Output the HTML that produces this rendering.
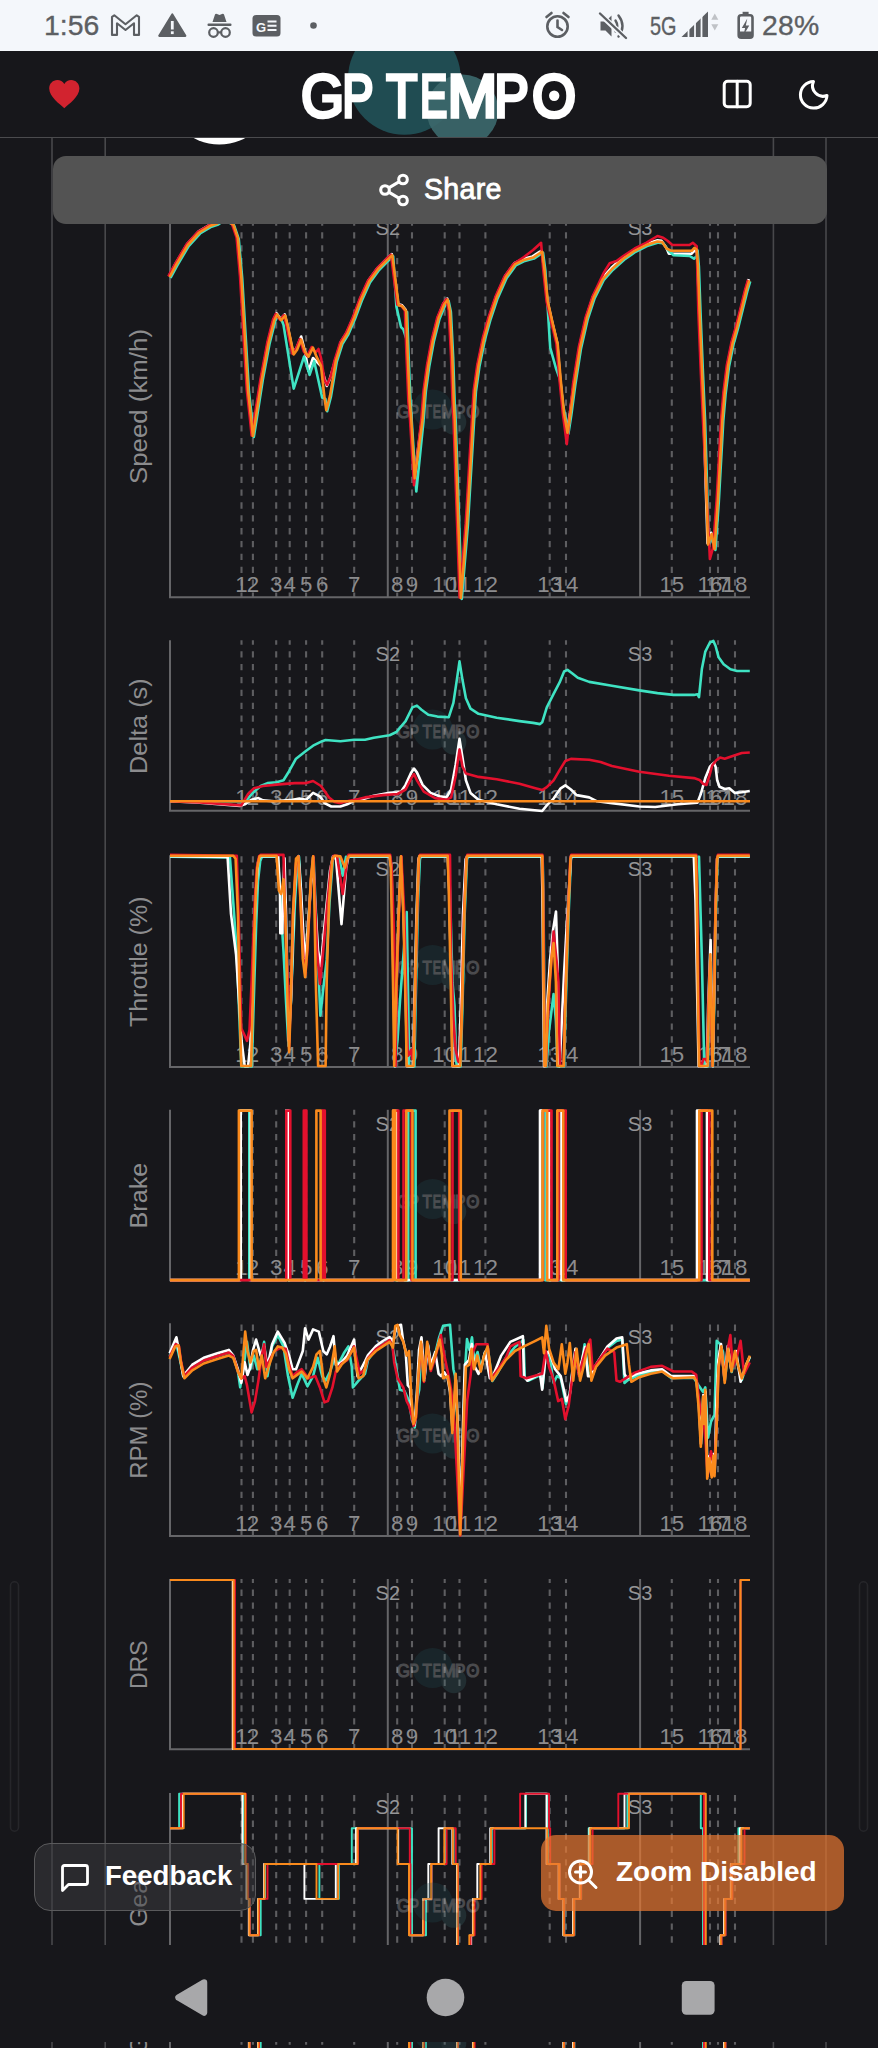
<!DOCTYPE html>
<html lang="en">
<head>
<meta charset="utf-8">
<title>GP Tempo</title>
<style>
*{box-sizing:border-box;margin:0;padding:0}
html,body{width:878px;height:2048px;overflow:hidden;background:#17171b}
body{position:relative;font-family:"Liberation Sans",sans-serif;color:#fff}
.abs{position:absolute}
#status{left:0;top:0;width:878px;height:51px;background:#f4f7fb;z-index:30}
#status .t{position:absolute;top:9.3px;font-size:28.4px;color:#5c5f63;line-height:32px;white-space:nowrap;-webkit-text-stroke:0.35px #5c5f63}
#header{left:0;top:51px;width:878px;height:87px;background:#17171b;border-bottom:1.5px solid #4b4b4e;z-index:20;overflow:hidden}
#content{left:0;top:0;width:878px;height:2048px;z-index:1}
#share{left:53px;top:156px;width:773.5px;height:68px;background:#535353;border-radius:13px;z-index:10}
#share span{position:absolute;left:371px;top:16px;font-size:28.6px;line-height:34px;color:#fff;letter-spacing:0.3px;-webkit-text-stroke:0.85px #fff}
#feedback{left:34px;top:1843.3px;width:222px;height:67.6px;background:rgba(62,62,65,0.5);border:1.6px solid #5a5a5c;border-radius:16px;z-index:10}
#feedback span{position:absolute;left:70px;top:14.5px;font-size:27.6px;line-height:34px;font-weight:700;color:#fff;letter-spacing:0}
#zoom{left:540.5px;top:1835px;width:303.4px;height:76.4px;background:rgba(232,120,48,0.70);border-radius:15px;z-index:10}
#zoom span{position:absolute;left:75.5px;top:19.5px;font-size:28px;line-height:34px;font-weight:700;color:#fff;letter-spacing:0}
#nav{left:0;top:1945px;width:878px;height:96.6px;background:#17171b;z-index:25}
svg text{font-family:"Liberation Sans",sans-serif}
</style>
</head>
<body>
<!-- page content: charts -->
<svg id="content" class="abs" width="878" height="2048" viewBox="0 0 878 2048">
<g stroke="#48484b" stroke-width="1.6">
<line x1="52" y1="137" x2="52" y2="2048"/>
<line x1="105.2" y1="137" x2="105.2" y2="2048"/>
<line x1="773.4" y1="137" x2="773.4" y2="2048"/>
<line x1="826" y1="137" x2="826" y2="2048"/>
</g>
<circle cx="219.300" cy="90.800" r="53.800" fill="#ffffff"/>
<rect x="10.500" y="1581.800" width="8" height="249.400" rx="4" fill="none" stroke="#26262a" stroke-width="1.600"/>
<rect x="859.500" y="1581.800" width="8" height="249.400" rx="4" fill="none" stroke="#26262a" stroke-width="1.600"/>
<path d="M241.5 213.7V597.3M252.9 213.7V597.3M276.2 213.7V597.3M289.7 213.7V597.3M306.1 213.7V597.3M322.2 213.7V597.3M354.2 213.7V597.3M397.2 213.7V597.3M412.0 213.7V597.3M444.7 213.7V597.3M459.5 213.7V597.3M485.4 213.7V597.3M549.7 213.7V597.3M566.0 213.7V597.3M671.8 213.7V597.3M710.0 213.7V597.3M718.0 213.7V597.3M735.0 213.7V597.3" stroke="#5e5e61" stroke-width="2.1" fill="none" stroke-dasharray="6.3 6.56" stroke-dashoffset="-5.74"/>
<line x1="387.8" y1="213.7" x2="387.8" y2="597.3" stroke="#656568" stroke-width="2"/>
<text x="387.8" y="234.6" text-anchor="middle" font-size="20" fill="#959597">S2</text>
<line x1="640.1" y1="213.7" x2="640.1" y2="597.3" stroke="#656568" stroke-width="2"/>
<text x="640.1" y="234.6" text-anchor="middle" font-size="20" fill="#959597">S3</text>
<text x="241.5" y="591.9" text-anchor="middle" font-size="22.3" fill="#8c8c8e">1</text>
<text x="252.9" y="591.9" text-anchor="middle" font-size="22.3" fill="#8c8c8e">2</text>
<text x="276.2" y="591.9" text-anchor="middle" font-size="22.3" fill="#8c8c8e">3</text>
<text x="289.7" y="591.9" text-anchor="middle" font-size="22.3" fill="#8c8c8e">4</text>
<text x="306.1" y="591.9" text-anchor="middle" font-size="22.3" fill="#8c8c8e">5</text>
<text x="322.2" y="591.9" text-anchor="middle" font-size="22.3" fill="#8c8c8e">6</text>
<text x="354.2" y="591.9" text-anchor="middle" font-size="22.3" fill="#8c8c8e">7</text>
<text x="397.2" y="591.9" text-anchor="middle" font-size="22.3" fill="#8c8c8e">8</text>
<text x="412.0" y="591.9" text-anchor="middle" font-size="22.3" fill="#8c8c8e">9</text>
<text x="444.7" y="591.9" text-anchor="middle" font-size="22.3" fill="#8c8c8e">10</text>
<text x="459.5" y="591.9" text-anchor="middle" font-size="22.3" fill="#8c8c8e">11</text>
<text x="485.4" y="591.9" text-anchor="middle" font-size="22.3" fill="#8c8c8e">12</text>
<text x="549.7" y="591.9" text-anchor="middle" font-size="22.3" fill="#8c8c8e">13</text>
<text x="566.0" y="591.9" text-anchor="middle" font-size="22.3" fill="#8c8c8e">14</text>
<text x="671.8" y="591.9" text-anchor="middle" font-size="22.3" fill="#8c8c8e">15</text>
<text x="710.0" y="591.9" text-anchor="middle" font-size="22.3" fill="#8c8c8e">16</text>
<text x="718.0" y="591.9" text-anchor="middle" font-size="22.3" fill="#8c8c8e">17</text>
<text x="735.0" y="591.9" text-anchor="middle" font-size="22.3" fill="#8c8c8e">18</text>
<g opacity="0.28"><circle cx="432.6" cy="409.4" r="20" fill="#204c52"/><circle cx="453.8" cy="422.1" r="12.5" fill="#3b676b"/><g transform="translate(438.3,411.8) scale(0.300) translate(-438.6,-95.7)" opacity="0.8"><text y="117.4" font-family="'Liberation Sans',sans-serif" font-weight="400" font-size="60.5" fill="#ffffff" stroke="#ffffff" stroke-width="3.6" stroke-linejoin="miter" xml:space="preserve"><tspan x="301.1" textLength="43.1" lengthAdjust="spacingAndGlyphs">G</tspan><tspan x="342.3" textLength="31.3" lengthAdjust="spacingAndGlyphs">P</tspan><tspan x="374.0"> </tspan><tspan x="386.3" textLength="31.1" lengthAdjust="spacingAndGlyphs">T</tspan><tspan x="420.1" textLength="27.3" lengthAdjust="spacingAndGlyphs">E</tspan><tspan x="447.6" textLength="49.8" lengthAdjust="spacingAndGlyphs">M</tspan><tspan x="494.3" textLength="34.6" lengthAdjust="spacingAndGlyphs">P</tspan><tspan x="532.1" textLength="44.1" lengthAdjust="spacingAndGlyphs">O</tspan></text><circle cx="554.2" cy="95.7" r="5.2" fill="#ffffff"/></g></g>
<path d="M170.0 213.7V597.3H750.0" stroke="#656568" stroke-width="2" fill="none"/>
<text transform="translate(147.2,406.5) rotate(-90)" text-anchor="middle" font-size="24.8" textLength="155.0" lengthAdjust="spacingAndGlyphs" fill="#8c8c8e">Speed (km/h)</text>
<polyline points="169.1,275.8 175.9,263.2 187.3,243.8 198.7,231.3 210.1,224.5 216.9,222.2 223.5,217.8 232.8,223.4 237.4,237.0 240.8,275.8 244.2,332.8 247.6,389.8 250.6,416.8 252.4,434.8 255.6,414.8 261.3,378.3 268.1,341.8 273.8,319.0 276.6,313.3 280.7,319.0 284.8,314.5 287.5,325.8 293.2,353.2 297.1,347.0 301.2,336.5 305.1,352.0 308.4,371.0 313.0,358.0 317.0,362.0 321.0,366.0 326.8,386.0 329.5,380.0 335.3,360.0 341.0,341.8 346.7,332.7 353.6,316.8 360.4,298.5 368.6,280.3 377.7,267.8 386.8,258.7 391.8,254.1 394.8,278.0 398.2,304.2 401.6,304.9 405.7,309.9 407.3,355.5 409.2,401.0 410.8,418.8 414.2,477.1 422.1,418.8 424.4,389.6 427.8,364.6 432.4,339.5 438.1,316.8 443.8,303.1 447.2,298.5 449.5,309.9 451.8,355.5 453.3,401.0 454.3,418.8 460.4,596.8 466.5,522.8 472.7,418.8 474.5,389.6 478.0,364.6 483.6,337.3 489.3,316.8 496.2,296.2 505.3,275.8 514.4,263.2 523.5,258.7 532.6,256.4 539.5,251.8 541.7,250.7 544.0,268.8 547.4,300.8 552.0,321.3 557.2,342.9 560.2,378.3 563.6,412.4 567.0,431.6 570.0,412.4 573.9,382.8 579.6,346.4 586.4,316.8 593.2,296.2 602.3,278.0 611.4,267.8 622.8,257.5 634.2,249.6 645.6,243.9 657.0,240.4 661.6,240.9 666.1,247.3 668.9,253.7 691.7,253.7 694.4,250.5 696.9,252.0 697.5,264.4 699.1,309.9 701.4,366.8 703.7,418.8 707.5,543.2 711.2,532.8 714.0,547.8 717.4,499.8 721.9,418.8 724.2,391.9 727.6,364.6 732.2,341.8 736.7,325.9 741.3,307.6 745.8,289.4 748.8,279.2" fill="none" stroke="#ffffff" stroke-width="2.6" stroke-linejoin="round" stroke-linecap="butt"/>
<polyline points="170.5,278.0 177.3,265.4 188.7,246.0 200.1,233.5 211.5,226.7 218.3,224.4 224.9,220.0 234.2,225.6 238.8,239.2 242.2,278.0 245.6,335.0 249.0,392.0 252.0,419.0 253.8,437.0 257.0,417.0 262.7,380.5 269.5,344.0 275.2,321.2 278.0,315.5 282.1,321.2 283.5,324.8 293.7,388.6 304.0,356.7 309.6,374.9 314.2,361.2 322.2,397.7 325.4,398.7 327.2,411.2 331.0,396.4 336.7,362.2 342.4,344.0 348.1,334.9 355.0,319.0 361.8,300.7 370.0,282.5 379.1,270.0 388.2,260.9 393.2,256.3 396.4,306.6 401.0,327.0 403.3,329.3 406.8,340.0 407.1,312.1 408.7,357.7 410.6,403.2 416.3,491.5 423.5,421.0 425.8,391.8 429.2,366.8 433.8,341.7 439.5,319.0 445.2,305.3 448.6,300.7 450.9,312.1 453.2,357.7 454.7,403.2 455.7,421.0 461.8,599.0 467.9,525.0 474.1,421.0 475.9,391.8 479.4,366.8 485.0,339.5 490.7,319.0 497.6,298.4 506.7,278.0 515.8,265.4 524.9,260.9 534.0,258.6 540.9,254.0 543.1,252.9 545.4,271.0 550.2,347.6 555.9,368.0 560.0,379.5 563.0,405.0 565.0,414.6 568.4,433.8 571.4,414.6 575.3,385.0 581.0,348.6 587.8,319.0 594.6,298.4 603.7,280.2 612.8,270.0 624.2,259.7 635.6,251.8 647.0,246.1 658.4,242.6 663.0,243.1 668.0,250.0 673.5,255.3 689.6,256.0 694.0,258.7 696.9,256.0 697.6,250.6 698.9,266.6 700.5,312.1 702.8,369.0 705.1,421.0 708.9,545.4 712.6,535.0 715.4,550.0 718.8,502.0 723.3,421.0 725.6,394.1 729.0,366.8 733.6,344.0 738.1,328.1 742.7,309.8 747.2,291.6 750.2,281.4" fill="none" stroke="#3fe3c3" stroke-width="2.6" stroke-linejoin="round" stroke-linecap="butt"/>
<polyline points="168.3,276.4 175.1,263.8 186.5,244.4 197.9,231.9 209.3,225.1 216.1,222.8 222.7,218.4 232.0,224.0 236.6,237.6 240.0,276.4 243.4,333.4 246.8,390.4 249.8,417.4 251.6,435.4 254.8,415.4 260.5,378.9 267.3,342.4 273.0,319.6 275.8,313.9 279.9,319.6 284.0,315.1 286.7,326.4 292.4,353.8 295.8,349.2 299.9,339.0 303.8,351.5 307.2,356.1 311.7,347.0 313.0,350.0 316.0,352.0 318.5,349.0 321.0,358.0 324.5,380.0 327.0,385.0 330.5,377.0 334.5,360.6 340.2,342.4 345.9,333.3 352.8,317.4 359.6,299.1 367.8,280.9 376.9,268.4 386.0,259.3 391.0,254.7 394.0,278.6 397.4,304.8 400.8,305.5 404.9,310.5 406.5,356.1 408.4,401.6 410.0,419.4 414.0,485.2 421.3,419.4 423.6,390.2 427.0,365.2 431.6,340.1 437.3,317.4 443.0,303.7 446.4,299.1 448.7,310.5 451.0,356.1 452.5,401.6 453.5,419.4 459.6,597.4 465.7,523.4 471.9,419.4 473.7,390.2 477.2,365.2 482.8,337.9 488.5,317.4 495.4,296.8 504.5,276.4 513.6,263.8 524.0,257.0 533.1,250.0 541.1,242.8 543.2,269.4 546.6,301.4 551.2,321.9 556.4,343.5 559.4,378.9 562.8,413.0 566.8,444.2 573.1,383.4 578.8,347.0 585.6,317.4 592.4,296.8 604.0,272.4 609.7,263.3 616.5,261.0 623.3,256.0 634.7,248.5 646.1,242.8 657.5,236.0 663.2,237.8 667.8,241.0 672.3,245.0 689.4,245.0 692.8,242.8 696.7,246.2 698.3,310.5 700.6,367.4 702.9,419.4 709.9,559.0 713.0,548.0 716.6,500.4 721.1,419.4 723.4,392.5 726.8,365.2 731.4,342.4 735.9,326.5 740.5,308.2 745.0,290.0 748.0,279.8" fill="none" stroke="#e3102d" stroke-width="2.6" stroke-linejoin="round" stroke-linecap="butt"/>
<polyline points="169.6,277.0 176.4,264.4 187.8,245.0 199.2,232.5 210.6,225.7 217.4,223.4 224.0,219.0 233.3,224.6 237.9,238.2 241.3,277.0 244.7,334.0 248.1,391.0 251.1,418.0 252.9,436.0 256.1,416.0 261.8,379.5 268.6,343.0 274.3,320.2 277.1,314.5 281.2,320.2 285.3,315.7 288.0,327.0 293.7,354.4 297.1,349.8 301.2,339.6 305.1,352.1 308.5,356.7 313.0,347.6 316.5,356.7 321.0,365.8 324.5,397.7 326.3,410.2 330.1,395.4 335.8,361.2 341.5,343.0 347.2,333.9 354.1,318.0 360.9,299.7 369.1,281.5 378.2,269.0 387.3,259.9 392.3,255.3 395.3,279.2 398.7,305.4 402.1,306.1 406.2,311.1 407.8,356.7 409.7,402.2 411.3,420.0 414.7,478.3 422.6,420.0 424.9,390.8 428.3,365.8 432.9,340.7 438.6,318.0 444.3,304.3 447.7,299.7 450.0,311.1 452.3,356.7 453.8,402.2 454.8,420.0 460.9,598.0 467.0,524.0 473.2,420.0 475.0,390.8 478.5,365.8 484.1,338.5 489.8,318.0 496.7,297.4 505.8,277.0 514.9,264.4 524.0,259.9 533.1,257.6 540.0,253.0 542.2,251.9 544.5,270.0 547.9,302.0 552.5,322.5 557.7,344.1 560.7,379.5 564.1,413.6 567.5,432.8 570.5,413.6 574.4,384.0 580.1,347.6 586.9,318.0 593.7,297.4 602.8,279.2 611.9,269.0 623.3,258.7 634.7,250.8 646.1,245.1 657.5,241.6 662.1,242.1 666.6,248.5 671.2,250.8 691.7,250.8 694.4,247.8 696.7,249.6 698.0,265.6 699.6,311.1 701.9,368.0 704.2,420.0 708.0,544.4 711.7,534.0 714.5,549.0 717.9,501.0 722.4,420.0 724.7,393.1 728.1,365.8 732.7,343.0 737.2,327.1 741.8,308.8 746.3,290.6 749.3,280.4" fill="none" stroke="#fa8a1c" stroke-width="2.6" stroke-linejoin="round" stroke-linecap="butt"/>
<path d="M241.5 640.3V810.8M252.9 640.3V810.8M276.2 640.3V810.8M289.7 640.3V810.8M306.1 640.3V810.8M322.2 640.3V810.8M354.2 640.3V810.8M397.2 640.3V810.8M412.0 640.3V810.8M444.7 640.3V810.8M459.5 640.3V810.8M485.4 640.3V810.8M549.7 640.3V810.8M566.0 640.3V810.8M671.8 640.3V810.8M710.0 640.3V810.8M718.0 640.3V810.8M735.0 640.3V810.8" stroke="#5e5e61" stroke-width="2.1" fill="none" stroke-dasharray="6.3 6.56" stroke-dashoffset="1.96"/>
<line x1="387.8" y1="640.3" x2="387.8" y2="810.8" stroke="#656568" stroke-width="2"/>
<text x="387.8" y="661.2" text-anchor="middle" font-size="20" fill="#959597">S2</text>
<line x1="640.1" y1="640.3" x2="640.1" y2="810.8" stroke="#656568" stroke-width="2"/>
<text x="640.1" y="661.2" text-anchor="middle" font-size="20" fill="#959597">S3</text>
<text x="241.5" y="805.4" text-anchor="middle" font-size="22.3" fill="#8c8c8e">1</text>
<text x="252.9" y="805.4" text-anchor="middle" font-size="22.3" fill="#8c8c8e">2</text>
<text x="276.2" y="805.4" text-anchor="middle" font-size="22.3" fill="#8c8c8e">3</text>
<text x="289.7" y="805.4" text-anchor="middle" font-size="22.3" fill="#8c8c8e">4</text>
<text x="306.1" y="805.4" text-anchor="middle" font-size="22.3" fill="#8c8c8e">5</text>
<text x="322.2" y="805.4" text-anchor="middle" font-size="22.3" fill="#8c8c8e">6</text>
<text x="354.2" y="805.4" text-anchor="middle" font-size="22.3" fill="#8c8c8e">7</text>
<text x="397.2" y="805.4" text-anchor="middle" font-size="22.3" fill="#8c8c8e">8</text>
<text x="412.0" y="805.4" text-anchor="middle" font-size="22.3" fill="#8c8c8e">9</text>
<text x="444.7" y="805.4" text-anchor="middle" font-size="22.3" fill="#8c8c8e">10</text>
<text x="459.5" y="805.4" text-anchor="middle" font-size="22.3" fill="#8c8c8e">11</text>
<text x="485.4" y="805.4" text-anchor="middle" font-size="22.3" fill="#8c8c8e">12</text>
<text x="549.7" y="805.4" text-anchor="middle" font-size="22.3" fill="#8c8c8e">13</text>
<text x="566.0" y="805.4" text-anchor="middle" font-size="22.3" fill="#8c8c8e">14</text>
<text x="671.8" y="805.4" text-anchor="middle" font-size="22.3" fill="#8c8c8e">15</text>
<text x="710.0" y="805.4" text-anchor="middle" font-size="22.3" fill="#8c8c8e">16</text>
<text x="718.0" y="805.4" text-anchor="middle" font-size="22.3" fill="#8c8c8e">17</text>
<text x="735.0" y="805.4" text-anchor="middle" font-size="22.3" fill="#8c8c8e">18</text>
<g opacity="0.28"><circle cx="432.6" cy="729.4" r="20" fill="#204c52"/><circle cx="453.8" cy="742.1" r="12.5" fill="#3b676b"/><g transform="translate(438.3,731.8) scale(0.300) translate(-438.6,-95.7)" opacity="0.8"><text y="117.4" font-family="'Liberation Sans',sans-serif" font-weight="400" font-size="60.5" fill="#ffffff" stroke="#ffffff" stroke-width="3.6" stroke-linejoin="miter" xml:space="preserve"><tspan x="301.1" textLength="43.1" lengthAdjust="spacingAndGlyphs">G</tspan><tspan x="342.3" textLength="31.3" lengthAdjust="spacingAndGlyphs">P</tspan><tspan x="374.0"> </tspan><tspan x="386.3" textLength="31.1" lengthAdjust="spacingAndGlyphs">T</tspan><tspan x="420.1" textLength="27.3" lengthAdjust="spacingAndGlyphs">E</tspan><tspan x="447.6" textLength="49.8" lengthAdjust="spacingAndGlyphs">M</tspan><tspan x="494.3" textLength="34.6" lengthAdjust="spacingAndGlyphs">P</tspan><tspan x="532.1" textLength="44.1" lengthAdjust="spacingAndGlyphs">O</tspan></text><circle cx="554.2" cy="95.7" r="5.2" fill="#ffffff"/></g></g>
<path d="M170.0 640.3V810.8H750.0" stroke="#656568" stroke-width="2" fill="none"/>
<text transform="translate(147.2,726.1) rotate(-90)" text-anchor="middle" font-size="24.8" textLength="95.6" lengthAdjust="spacingAndGlyphs" fill="#8c8c8e">Delta (s)</text>
<polyline points="170.0,801.3 244.0,801.3 247.0,799.7 252.7,792.9 260.7,786.0 267.5,783.1 276.6,782.2 283.5,780.3 289.1,771.2 296.0,758.7 306.2,750.7 313.1,745.7 322.2,741.2 325.6,740.0 340.4,741.2 354.1,739.8 365.0,739.8 373.7,737.7 389.6,735.2 396.4,732.0 405.6,721.1 412.4,707.4 416.9,705.6 421.5,709.7 428.3,714.7 437.4,716.6 448.8,717.2 453.4,702.9 456.8,680.1 459.5,661.4 462.5,680.1 465.9,698.3 470.5,708.6 478.5,713.8 496.7,717.7 519.5,721.1 533.1,722.9 540.0,724.1 542.2,722.3 546.8,707.4 553.6,693.8 559.6,682.4 564.1,671.5 567.5,669.9 572.1,673.3 577.8,677.8 589.2,681.9 611.9,685.8 639.3,690.4 657.5,693.1 673.5,694.9 694.0,694.9 697.4,694.2 699.0,697.2 701.9,668.7 705.3,651.6 709.9,642.5 713.3,640.9 715.6,646.0 718.6,657.3 723.6,664.2 730.4,669.2 737.2,671.0 749.8,671.0" fill="none" stroke="#3fe3c3" stroke-width="2.6" stroke-linejoin="round" stroke-linecap="butt"/>
<polyline points="170.0,801.3 200.0,802.8 240.2,805.9 244.7,804.3 251.6,799.7 258.4,798.1 263.0,800.4 274.3,801.3 292.6,799.7 299.4,798.6 306.2,799.7 313.1,792.9 319.9,796.3 324.5,803.1 331.3,806.5 340.4,806.5 347.2,804.3 354.1,800.8 365.0,798.6 373.7,795.8 389.6,792.9 397.6,792.2 401.0,791.7 405.6,784.9 411.3,772.4 414.0,768.5 416.9,772.4 422.6,784.9 430.6,792.9 439.7,796.3 446.6,797.4 451.1,789.5 455.7,764.4 459.5,738.9 462.5,757.6 465.9,780.3 470.5,792.9 478.5,799.7 496.7,804.3 519.5,808.8 542.2,811.0 546.8,805.4 553.6,798.6 560.7,788.3 565.3,785.4 570.9,789.5 576.6,795.1 589.2,797.4 597.1,801.3 611.9,803.1 639.3,806.5 655.2,807.0 678.0,804.3 697.4,802.7 700.8,794.0 705.3,778.1 709.9,766.7 713.8,762.8 715.6,766.7 717.2,780.3 719.5,786.7 724.7,789.0 729.3,788.3 734.9,792.9 741.8,792.2 749.8,791.0" fill="none" stroke="#ffffff" stroke-width="2.6" stroke-linejoin="round" stroke-linecap="butt"/>
<polyline points="170.0,801.3 200.0,802.5 241.3,805.4 248.1,794.0 253.8,788.3 263.0,786.0 278.9,784.4 294.8,783.1 306.2,783.1 313.1,781.0 321.0,786.0 329.0,797.4 334.7,802.0 340.4,803.1 349.5,800.8 358.6,799.0 365.0,797.4 382.8,795.1 397.6,794.0 405.6,789.5 411.3,778.1 414.0,774.0 416.9,780.3 423.8,791.7 435.2,798.1 446.6,799.7 451.1,797.4 455.7,775.8 459.5,749.6 462.5,766.7 465.9,773.5 478.5,776.9 496.7,779.2 519.5,783.8 535.4,788.3 542.2,790.1 546.8,787.2 553.6,780.3 559.6,770.1 565.3,761.0 570.9,758.9 589.2,759.8 600.6,762.1 611.9,766.0 639.3,771.7 668.9,775.8 694.0,778.1 699.6,779.9 703.1,783.8 706.5,784.9 709.4,775.8 712.2,765.5 716.7,759.8 720.1,757.6 724.7,758.7 732.7,756.0 741.8,753.0 749.8,752.5" fill="none" stroke="#e3102d" stroke-width="2.6" stroke-linejoin="round" stroke-linecap="butt"/>
<polyline points="170.0,801.3 750.0,801.3" fill="none" stroke="#fa8a1c" stroke-width="2.6" stroke-linejoin="round" stroke-linecap="butt"/>
<path d="M241.5 855.3V1067.1M252.9 855.3V1067.1M276.2 855.3V1067.1M289.7 855.3V1067.1M306.1 855.3V1067.1M322.2 855.3V1067.1M354.2 855.3V1067.1M397.2 855.3V1067.1M412.0 855.3V1067.1M444.7 855.3V1067.1M459.5 855.3V1067.1M485.4 855.3V1067.1M549.7 855.3V1067.1M566.0 855.3V1067.1M671.8 855.3V1067.1M710.0 855.3V1067.1M718.0 855.3V1067.1M735.0 855.3V1067.1" stroke="#5e5e61" stroke-width="2.1" fill="none" stroke-dasharray="6.3 6.56" stroke-dashoffset="11.86"/>
<line x1="387.8" y1="855.3" x2="387.8" y2="1067.1" stroke="#656568" stroke-width="2"/>
<text x="387.8" y="876.2" text-anchor="middle" font-size="20" fill="#959597">S2</text>
<line x1="640.1" y1="855.3" x2="640.1" y2="1067.1" stroke="#656568" stroke-width="2"/>
<text x="640.1" y="876.2" text-anchor="middle" font-size="20" fill="#959597">S3</text>
<text x="241.5" y="1061.7" text-anchor="middle" font-size="22.3" fill="#8c8c8e">1</text>
<text x="252.9" y="1061.7" text-anchor="middle" font-size="22.3" fill="#8c8c8e">2</text>
<text x="276.2" y="1061.7" text-anchor="middle" font-size="22.3" fill="#8c8c8e">3</text>
<text x="289.7" y="1061.7" text-anchor="middle" font-size="22.3" fill="#8c8c8e">4</text>
<text x="306.1" y="1061.7" text-anchor="middle" font-size="22.3" fill="#8c8c8e">5</text>
<text x="322.2" y="1061.7" text-anchor="middle" font-size="22.3" fill="#8c8c8e">6</text>
<text x="354.2" y="1061.7" text-anchor="middle" font-size="22.3" fill="#8c8c8e">7</text>
<text x="397.2" y="1061.7" text-anchor="middle" font-size="22.3" fill="#8c8c8e">8</text>
<text x="412.0" y="1061.7" text-anchor="middle" font-size="22.3" fill="#8c8c8e">9</text>
<text x="444.7" y="1061.7" text-anchor="middle" font-size="22.3" fill="#8c8c8e">10</text>
<text x="459.5" y="1061.7" text-anchor="middle" font-size="22.3" fill="#8c8c8e">11</text>
<text x="485.4" y="1061.7" text-anchor="middle" font-size="22.3" fill="#8c8c8e">12</text>
<text x="549.7" y="1061.7" text-anchor="middle" font-size="22.3" fill="#8c8c8e">13</text>
<text x="566.0" y="1061.7" text-anchor="middle" font-size="22.3" fill="#8c8c8e">14</text>
<text x="671.8" y="1061.7" text-anchor="middle" font-size="22.3" fill="#8c8c8e">15</text>
<text x="710.0" y="1061.7" text-anchor="middle" font-size="22.3" fill="#8c8c8e">16</text>
<text x="718.0" y="1061.7" text-anchor="middle" font-size="22.3" fill="#8c8c8e">17</text>
<text x="735.0" y="1061.7" text-anchor="middle" font-size="22.3" fill="#8c8c8e">18</text>
<g opacity="0.28"><circle cx="432.6" cy="965.1" r="20" fill="#204c52"/><circle cx="453.8" cy="977.8" r="12.5" fill="#3b676b"/><g transform="translate(438.3,967.5) scale(0.300) translate(-438.6,-95.7)" opacity="0.8"><text y="117.4" font-family="'Liberation Sans',sans-serif" font-weight="400" font-size="60.5" fill="#ffffff" stroke="#ffffff" stroke-width="3.6" stroke-linejoin="miter" xml:space="preserve"><tspan x="301.1" textLength="43.1" lengthAdjust="spacingAndGlyphs">G</tspan><tspan x="342.3" textLength="31.3" lengthAdjust="spacingAndGlyphs">P</tspan><tspan x="374.0"> </tspan><tspan x="386.3" textLength="31.1" lengthAdjust="spacingAndGlyphs">T</tspan><tspan x="420.1" textLength="27.3" lengthAdjust="spacingAndGlyphs">E</tspan><tspan x="447.6" textLength="49.8" lengthAdjust="spacingAndGlyphs">M</tspan><tspan x="494.3" textLength="34.6" lengthAdjust="spacingAndGlyphs">P</tspan><tspan x="532.1" textLength="44.1" lengthAdjust="spacingAndGlyphs">O</tspan></text><circle cx="554.2" cy="95.7" r="5.2" fill="#ffffff"/></g></g>
<path d="M170.0 855.3V1067.1H750.0" stroke="#656568" stroke-width="2" fill="none"/>
<text transform="translate(147.2,961.8) rotate(-90)" text-anchor="middle" font-size="24.8" textLength="130.6" lengthAdjust="spacingAndGlyphs" fill="#8c8c8e">Throttle (%)</text>
<polyline points="170.0,856.7 229.9,857.4 233.3,902.9 236.7,951.0 239.5,1021.0 241.3,1066.4 251.8,1066.4 253.6,1005.5 256.1,925.7 258.0,881.0 260.2,861.0 262.0,856.7 277.5,856.7 279.5,881.0 281.2,914.3 283.5,951.0 286.0,1001.0 288.5,1046.0 290.5,1011.0 292.6,959.9 295.0,901.0 297.5,863.0 299.0,856.7 301.0,891.0 303.0,941.0 305.5,961.0 308.0,931.0 311.0,881.0 313.6,857.7 315.0,891.0 318.0,961.0 320.4,1015.7 323.0,991.0 326.7,959.9 329.5,902.9 332.8,859.7 335.0,856.7 339.0,856.7 342.7,875.6 346.0,856.7 390.2,856.7 391.4,868.8 393.6,982.7 394.8,1066.4 397.6,1039.0 400.0,1001.0 403.0,961.0 406.7,912.0 408.2,1001.0 409.2,1066.4 414.4,1066.4 415.6,1005.5 418.0,903.0 419.9,859.7 420.8,856.7 448.5,856.7 450.0,891.6 452.5,982.7 454.5,1005.5 456.3,1062.0 457.0,1066.4 460.6,1066.4 462.5,1005.5 464.7,914.3 467.0,859.7 468.0,856.7 542.6,856.7 543.4,891.6 544.2,982.7 545.2,1066.4 546.5,1066.4 549.0,1031.0 553.6,994.0 555.9,1021.0 557.6,1066.4 564.0,1066.4 565.7,1005.5 568.6,914.3 570.9,859.7 571.8,856.7 699.0,856.7 701.9,959.9 704.2,1062.0 704.8,1066.4 707.8,1066.4 709.0,1005.5 710.6,959.0 711.9,1028.2 712.8,1066.4 714.2,1005.5 715.8,914.3 717.4,859.7 718.3,856.7 749.8,856.7" fill="none" stroke="#3fe3c3" stroke-width="2.6" stroke-linejoin="round" stroke-linecap="butt"/>
<polyline points="170.0,856.2 227.6,856.9 231.0,913.8 236.1,954.8 239.0,1000.5 241.5,1040.5 244.7,1066.2 248.1,1066.2 250.4,1043.5 252.0,1000.5 254.0,936.5 256.0,890.5 258.0,862.5 260.0,856.2 278.2,856.2 280.0,891.1 280.3,933.2 282.3,933.2 283.5,880.5 284.5,858.2 286.0,913.5 288.5,1040.5 291.0,1000.5 294.0,900.5 296.5,860.5 298.5,856.2 301.0,890.5 305.1,966.2 309.0,910.5 313.1,857.2 315.0,900.5 318.0,950.5 321.0,966.2 324.0,930.5 327.0,900.5 330.0,870.5 333.0,856.2 335.8,856.2 341.5,924.1 346.1,868.3 348.5,856.2 389.6,856.2 391.5,868.3 394.0,982.2 395.2,1066.2 396.6,982.2 398.7,913.8 401.0,856.9 403.6,913.8 405.9,1005.0 407.0,1066.2 413.0,1066.2 414.3,1005.0 416.5,913.8 418.4,859.2 419.4,856.2 447.7,856.2 449.2,891.1 451.2,982.2 452.6,1066.2 459.0,1066.2 460.8,1005.0 463.0,913.8 465.6,859.2 467.0,856.2 541.6,856.2 542.4,891.1 543.2,982.2 544.0,1066.2 545.0,1066.2 546.8,1009.5 550.0,960.5 553.0,930.5 556.0,911.5 557.5,960.5 558.5,1040.5 559.5,1066.2 560.7,1043.5 564.1,973.1 567.0,920.5 569.5,880.5 571.0,856.2 693.8,856.2 695.5,900.5 697.4,1005.0 698.6,1066.2 706.8,1066.2 708.2,1005.0 710.6,940.0 711.9,1027.7 712.8,1066.2 714.0,1000.5 715.4,913.8 717.0,859.2 718.0,856.2 749.8,856.2" fill="none" stroke="#ffffff" stroke-width="2.6" stroke-linejoin="round" stroke-linecap="butt"/>
<polyline points="170.0,854.9 236.8,855.7 238.6,913.3 240.6,1000.0 241.3,1028.4 244.0,1034.0 247.0,1040.9 249.5,1030.0 251.6,981.7 253.3,936.1 255.0,897.4 256.8,867.8 259.0,856.4 260.5,854.9 283.5,854.9 284.7,901.0 286.3,950.0 288.0,986.2 289.1,1048.0 290.7,1000.0 293.0,913.3 296.0,863.2 298.3,856.4 300.0,890.0 301.7,924.0 303.5,958.9 305.4,975.0 307.6,947.5 311.0,879.2 313.4,856.4 314.7,890.6 317.0,950.0 319.9,984.0 322.3,960.0 324.5,936.0 327.5,901.9 331.0,866.0 333.5,855.7 337.0,855.7 342.7,894.0 347.2,860.0 348.5,854.9 390.2,854.9 391.7,867.8 394.2,940.0 395.6,1066.0 396.8,981.7 399.0,913.3 401.4,856.4 404.3,913.3 406.5,1004.5 407.8,1056.0 409.5,1054.0 411.0,1050.0 412.4,1059.0 414.0,1040.0 415.0,1004.5 417.2,913.3 419.0,858.7 420.0,854.9 450.0,854.9 451.1,958.9 453.5,1020.0 455.7,1050.0 458.0,1061.0 460.0,1063.0 461.9,1004.5 464.1,913.3 466.4,858.7 467.3,854.9 542.4,854.9 543.2,890.6 544.0,981.7 545.0,1066.0 546.0,1066.0 546.8,1038.6 550.0,980.0 553.6,931.6 556.5,960.0 558.4,981.7 559.6,1050.0 560.2,1066.0 563.5,1066.0 565.1,1004.5 568.0,913.3 570.3,858.7 571.2,854.9 696.3,854.9 697.2,890.6 698.6,1004.5 699.6,1066.0 702.0,1064.0 703.5,1059.0 705.5,1059.0 707.3,1062.0 708.5,1004.5 710.2,962.0 711.5,1027.2 712.4,1066.0 713.8,1004.5 715.4,913.3 717.0,858.7 717.9,854.9 749.8,854.9" fill="none" stroke="#e3102d" stroke-width="2.6" stroke-linejoin="round" stroke-linecap="butt"/>
<polyline points="170.0,855.7 233.3,855.7 235.6,858.7 237.9,913.3 240.2,1027.2 241.3,1066.0 251.1,1066.0 252.7,1004.5 254.3,936.1 255.7,897.4 257.3,867.8 259.5,856.4 261.0,855.7 276.6,855.7 278.9,890.6 281.2,894.0 283.5,879.2 285.3,913.3 287.6,1004.5 289.1,1052.3 290.7,1004.5 293.0,913.3 296.0,858.7 298.3,856.4 300.5,901.9 302.8,958.9 305.1,977.1 307.4,947.5 310.8,879.2 313.1,856.4 314.2,890.6 315.8,981.7 318.1,1066.0 325.6,1066.0 326.7,981.7 329.0,901.9 332.4,858.7 334.7,855.7 340.4,856.4 345.0,867.8 347.2,858.7 349.5,855.7 389.6,855.7 390.8,867.8 393.0,981.7 394.2,1066.0 396.4,981.7 398.7,913.3 401.0,856.4 403.3,913.3 405.6,1004.5 406.7,1066.0 413.5,1066.0 414.7,1004.5 416.9,913.3 418.8,858.7 419.7,855.7 447.7,855.7 448.8,890.6 450.7,981.7 452.3,1066.0 460.2,1066.0 462.1,1004.5 464.3,913.3 466.6,858.7 467.5,855.7 542.2,855.7 542.9,890.6 543.6,981.7 544.5,1066.0 545.6,1066.0 547.9,1004.5 551.4,958.9 553.6,943.0 555.9,981.7 557.3,1066.0 563.7,1066.0 565.3,1004.5 568.2,913.3 570.5,858.7 571.4,855.7 695.8,855.7 696.7,890.6 698.0,1004.5 699.0,1066.0 707.6,1066.0 708.8,1004.5 710.4,954.3 711.7,1027.2 712.6,1066.0 714.0,1004.5 715.6,913.3 717.2,858.7 718.1,855.7 749.8,855.7" fill="none" stroke="#fa8a1c" stroke-width="2.6" stroke-linejoin="round" stroke-linecap="butt"/>
<path d="M241.5 1109.8V1280.3M252.9 1109.8V1280.3M276.2 1109.8V1280.3M289.7 1109.8V1280.3M306.1 1109.8V1280.3M322.2 1109.8V1280.3M354.2 1109.8V1280.3M397.2 1109.8V1280.3M412.0 1109.8V1280.3M444.7 1109.8V1280.3M459.5 1109.8V1280.3M485.4 1109.8V1280.3M549.7 1109.8V1280.3M566.0 1109.8V1280.3M671.8 1109.8V1280.3M710.0 1109.8V1280.3M718.0 1109.8V1280.3M735.0 1109.8V1280.3" stroke="#5e5e61" stroke-width="2.1" fill="none" stroke-dasharray="6.3 6.56" stroke-dashoffset="1.46"/>
<line x1="387.8" y1="1109.8" x2="387.8" y2="1280.3" stroke="#656568" stroke-width="2"/>
<text x="387.8" y="1130.7" text-anchor="middle" font-size="20" fill="#959597">S2</text>
<line x1="640.1" y1="1109.8" x2="640.1" y2="1280.3" stroke="#656568" stroke-width="2"/>
<text x="640.1" y="1130.7" text-anchor="middle" font-size="20" fill="#959597">S3</text>
<text x="241.5" y="1274.9" text-anchor="middle" font-size="22.3" fill="#8c8c8e">1</text>
<text x="252.9" y="1274.9" text-anchor="middle" font-size="22.3" fill="#8c8c8e">2</text>
<text x="276.2" y="1274.9" text-anchor="middle" font-size="22.3" fill="#8c8c8e">3</text>
<text x="289.7" y="1274.9" text-anchor="middle" font-size="22.3" fill="#8c8c8e">4</text>
<text x="306.1" y="1274.9" text-anchor="middle" font-size="22.3" fill="#8c8c8e">5</text>
<text x="322.2" y="1274.9" text-anchor="middle" font-size="22.3" fill="#8c8c8e">6</text>
<text x="354.2" y="1274.9" text-anchor="middle" font-size="22.3" fill="#8c8c8e">7</text>
<text x="397.2" y="1274.9" text-anchor="middle" font-size="22.3" fill="#8c8c8e">8</text>
<text x="412.0" y="1274.9" text-anchor="middle" font-size="22.3" fill="#8c8c8e">9</text>
<text x="444.7" y="1274.9" text-anchor="middle" font-size="22.3" fill="#8c8c8e">10</text>
<text x="459.5" y="1274.9" text-anchor="middle" font-size="22.3" fill="#8c8c8e">11</text>
<text x="485.4" y="1274.9" text-anchor="middle" font-size="22.3" fill="#8c8c8e">12</text>
<text x="549.7" y="1274.9" text-anchor="middle" font-size="22.3" fill="#8c8c8e">13</text>
<text x="566.0" y="1274.9" text-anchor="middle" font-size="22.3" fill="#8c8c8e">14</text>
<text x="671.8" y="1274.9" text-anchor="middle" font-size="22.3" fill="#8c8c8e">15</text>
<text x="710.0" y="1274.9" text-anchor="middle" font-size="22.3" fill="#8c8c8e">16</text>
<text x="718.0" y="1274.9" text-anchor="middle" font-size="22.3" fill="#8c8c8e">17</text>
<text x="735.0" y="1274.9" text-anchor="middle" font-size="22.3" fill="#8c8c8e">18</text>
<g opacity="0.28"><circle cx="432.6" cy="1198.9" r="20" fill="#204c52"/><circle cx="453.8" cy="1211.6" r="12.5" fill="#3b676b"/><g transform="translate(438.3,1201.3) scale(0.300) translate(-438.6,-95.7)" opacity="0.8"><text y="117.4" font-family="'Liberation Sans',sans-serif" font-weight="400" font-size="60.5" fill="#ffffff" stroke="#ffffff" stroke-width="3.6" stroke-linejoin="miter" xml:space="preserve"><tspan x="301.1" textLength="43.1" lengthAdjust="spacingAndGlyphs">G</tspan><tspan x="342.3" textLength="31.3" lengthAdjust="spacingAndGlyphs">P</tspan><tspan x="374.0"> </tspan><tspan x="386.3" textLength="31.1" lengthAdjust="spacingAndGlyphs">T</tspan><tspan x="420.1" textLength="27.3" lengthAdjust="spacingAndGlyphs">E</tspan><tspan x="447.6" textLength="49.8" lengthAdjust="spacingAndGlyphs">M</tspan><tspan x="494.3" textLength="34.6" lengthAdjust="spacingAndGlyphs">P</tspan><tspan x="532.1" textLength="44.1" lengthAdjust="spacingAndGlyphs">O</tspan></text><circle cx="554.2" cy="95.7" r="5.2" fill="#ffffff"/></g></g>
<path d="M170.0 1109.8V1280.3H750.0" stroke="#656568" stroke-width="2" fill="none"/>
<text transform="translate(147.2,1195.6) rotate(-90)" text-anchor="middle" font-size="24.8" textLength="65.6" lengthAdjust="spacingAndGlyphs" fill="#8c8c8e">Brake</text>
<polyline points="170.0,1280.1 239.5,1280.1 239.5,1110.6 249.3,1110.6 249.3,1280.1 286.3,1280.1 286.3,1110.6 288.7,1110.6 288.7,1280.1 408.2,1280.1 408.2,1110.6 415.6,1110.6 415.6,1280.1 541.0,1280.1 541.0,1110.6 545.2,1110.6 545.2,1280.1 749.8,1280.1" fill="none" stroke="#3fe3c3" stroke-width="2.6" stroke-linejoin="round" stroke-linecap="butt"/>
<polyline points="170.0,1280.1 240.7,1280.1 240.7,1110.6 250.8,1110.6 250.8,1280.1 286.3,1280.1 286.3,1110.6 288.3,1110.6 288.3,1280.1 393.5,1280.1 393.5,1110.6 396.7,1110.6 396.7,1280.1 540.0,1280.1 540.0,1110.6 549.2,1110.6 549.2,1280.1 558.0,1280.1 558.0,1110.6 561.5,1110.6 561.5,1280.1 697.0,1280.1 697.0,1110.6 707.0,1110.6 707.0,1280.1 749.8,1280.1" fill="none" stroke="#ffffff" stroke-width="2.6" stroke-linejoin="round" stroke-linecap="butt"/>
<polyline points="170.0,1280.1 286.3,1280.1 286.3,1110.6 290.3,1110.6 290.3,1280.1 303.8,1280.1 303.8,1110.6 306.4,1110.6 306.4,1280.1 322.3,1280.1 322.3,1110.6 324.8,1110.6 324.8,1280.1 394.0,1280.1 394.0,1110.6 398.4,1110.6 398.4,1280.1 403.5,1280.1 403.5,1110.6 411.5,1110.6 411.5,1280.1 452.5,1280.1 452.5,1110.6 459.2,1110.6 459.2,1280.1 543.0,1280.1 543.0,1110.6 551.5,1110.6 551.5,1280.1 558.5,1280.1 558.5,1110.6 565.7,1110.6 565.7,1280.1 701.5,1280.1 701.5,1110.6 709.3,1110.6 709.3,1280.1 749.8,1280.1" fill="none" stroke="#e3102d" stroke-width="2.6" stroke-linejoin="round" stroke-linecap="butt"/>
<polyline points="170.0,1280.1 238.9,1280.1 238.9,1110.6 251.6,1110.6 251.6,1280.1 316.4,1280.1 316.4,1110.6 320.6,1110.6 320.6,1280.1 393.0,1280.1 393.0,1110.6 395.2,1110.6 395.2,1280.1 406.3,1280.1 406.3,1110.6 412.5,1110.6 412.5,1280.1 449.5,1280.1 449.5,1110.6 460.8,1110.6 460.8,1280.1 542.6,1280.1 542.6,1110.6 547.2,1110.6 547.2,1280.1 557.3,1280.1 557.3,1110.6 563.3,1110.6 563.3,1280.1 699.3,1280.1 699.3,1110.6 712.3,1110.6 712.3,1280.1 749.8,1280.1" fill="none" stroke="#fa8a1c" stroke-width="2.6" stroke-linejoin="round" stroke-linecap="butt"/>
<path d="M241.5 1323.2V1536.0M252.9 1323.2V1536.0M276.2 1323.2V1536.0M289.7 1323.2V1536.0M306.1 1323.2V1536.0M322.2 1323.2V1536.0M354.2 1323.2V1536.0M397.2 1323.2V1536.0M412.0 1323.2V1536.0M444.7 1323.2V1536.0M459.5 1323.2V1536.0M485.4 1323.2V1536.0M549.7 1323.2V1536.0M566.0 1323.2V1536.0M671.8 1323.2V1536.0M710.0 1323.2V1536.0M718.0 1323.2V1536.0M735.0 1323.2V1536.0" stroke="#5e5e61" stroke-width="2.1" fill="none" stroke-dasharray="6.3 6.56" stroke-dashoffset="11.46"/>
<line x1="387.8" y1="1323.2" x2="387.8" y2="1536.0" stroke="#656568" stroke-width="2"/>
<text x="387.8" y="1344.1" text-anchor="middle" font-size="20" fill="#959597">S2</text>
<line x1="640.1" y1="1323.2" x2="640.1" y2="1536.0" stroke="#656568" stroke-width="2"/>
<text x="640.1" y="1344.1" text-anchor="middle" font-size="20" fill="#959597">S3</text>
<text x="241.5" y="1530.6" text-anchor="middle" font-size="22.3" fill="#8c8c8e">1</text>
<text x="252.9" y="1530.6" text-anchor="middle" font-size="22.3" fill="#8c8c8e">2</text>
<text x="276.2" y="1530.6" text-anchor="middle" font-size="22.3" fill="#8c8c8e">3</text>
<text x="289.7" y="1530.6" text-anchor="middle" font-size="22.3" fill="#8c8c8e">4</text>
<text x="306.1" y="1530.6" text-anchor="middle" font-size="22.3" fill="#8c8c8e">5</text>
<text x="322.2" y="1530.6" text-anchor="middle" font-size="22.3" fill="#8c8c8e">6</text>
<text x="354.2" y="1530.6" text-anchor="middle" font-size="22.3" fill="#8c8c8e">7</text>
<text x="397.2" y="1530.6" text-anchor="middle" font-size="22.3" fill="#8c8c8e">8</text>
<text x="412.0" y="1530.6" text-anchor="middle" font-size="22.3" fill="#8c8c8e">9</text>
<text x="444.7" y="1530.6" text-anchor="middle" font-size="22.3" fill="#8c8c8e">10</text>
<text x="459.5" y="1530.6" text-anchor="middle" font-size="22.3" fill="#8c8c8e">11</text>
<text x="485.4" y="1530.6" text-anchor="middle" font-size="22.3" fill="#8c8c8e">12</text>
<text x="549.7" y="1530.6" text-anchor="middle" font-size="22.3" fill="#8c8c8e">13</text>
<text x="566.0" y="1530.6" text-anchor="middle" font-size="22.3" fill="#8c8c8e">14</text>
<text x="671.8" y="1530.6" text-anchor="middle" font-size="22.3" fill="#8c8c8e">15</text>
<text x="710.0" y="1530.6" text-anchor="middle" font-size="22.3" fill="#8c8c8e">16</text>
<text x="718.0" y="1530.6" text-anchor="middle" font-size="22.3" fill="#8c8c8e">17</text>
<text x="735.0" y="1530.6" text-anchor="middle" font-size="22.3" fill="#8c8c8e">18</text>
<g opacity="0.28"><circle cx="432.6" cy="1433.5" r="20" fill="#204c52"/><circle cx="453.8" cy="1446.2" r="12.5" fill="#3b676b"/><g transform="translate(438.3,1435.9) scale(0.300) translate(-438.6,-95.7)" opacity="0.8"><text y="117.4" font-family="'Liberation Sans',sans-serif" font-weight="400" font-size="60.5" fill="#ffffff" stroke="#ffffff" stroke-width="3.6" stroke-linejoin="miter" xml:space="preserve"><tspan x="301.1" textLength="43.1" lengthAdjust="spacingAndGlyphs">G</tspan><tspan x="342.3" textLength="31.3" lengthAdjust="spacingAndGlyphs">P</tspan><tspan x="374.0"> </tspan><tspan x="386.3" textLength="31.1" lengthAdjust="spacingAndGlyphs">T</tspan><tspan x="420.1" textLength="27.3" lengthAdjust="spacingAndGlyphs">E</tspan><tspan x="447.6" textLength="49.8" lengthAdjust="spacingAndGlyphs">M</tspan><tspan x="494.3" textLength="34.6" lengthAdjust="spacingAndGlyphs">P</tspan><tspan x="532.1" textLength="44.1" lengthAdjust="spacingAndGlyphs">O</tspan></text><circle cx="554.2" cy="95.7" r="5.2" fill="#ffffff"/></g></g>
<path d="M170.0 1323.2V1536.0H750.0" stroke="#656568" stroke-width="2" fill="none"/>
<text transform="translate(147.2,1430.2) rotate(-90)" text-anchor="middle" font-size="24.8" textLength="97.2" lengthAdjust="spacingAndGlyphs" fill="#8c8c8e">RPM (%)</text>
<polyline points="169.6,1356.0 176.0,1342.0 179.6,1358.0 183.6,1377.0 192.3,1367.0 203.7,1360.0 217.4,1356.0 228.8,1352.5 233.3,1357.0 237.9,1371.0 240.2,1387.4 243.6,1366.9 247.0,1341.9 250.4,1369.2 253.8,1355.6 257.3,1369.2 260.7,1360.1 264.1,1341.9 267.5,1376.1 272.1,1346.4 277.8,1335.1 283.5,1346.4 288.0,1376.1 292.6,1397.7 297.1,1385.2 301.7,1373.8 307.4,1386.3 313.1,1376.1 317.6,1357.8 322.2,1376.1 325.6,1380.6 330.1,1371.5 334.7,1357.8 338.1,1364.7 343.8,1353.3 348.4,1346.4 351.8,1366.9 352.9,1387.4 358.6,1380.6 365.0,1373.8 368.0,1360.0 375.9,1349.0 382.8,1344.0 389.6,1340.0 392.0,1344.0 394.2,1355.6 399.9,1389.7 404.4,1390.9 409.0,1401.1 412.0,1420.0 414.7,1427.3 417.0,1400.0 419.2,1389.7 421.5,1345.0 424.3,1381.0 427.7,1344.0 431.0,1368.0 435.6,1352.0 439.0,1338.0 443.1,1325.9 450.0,1324.8 453.4,1369.2 455.0,1376.0 457.6,1425.0 460.3,1532.0 463.4,1423.9 465.5,1362.0 467.0,1339.0 469.5,1350.0 472.0,1337.3 474.3,1360.0 477.6,1352.0 481.0,1370.0 484.4,1354.0 487.8,1348.0 492.3,1381.0 496.9,1374.0 505.8,1358.0 514.9,1347.0 523.5,1340.0 524.8,1378.0 528.6,1380.6 540.5,1375.0 542.5,1388.0 546.0,1352.0 549.5,1356.0 553.6,1382.9 557.0,1376.0 560.7,1378.0 566.0,1404.0 569.5,1396.0 572.5,1372.0 575.8,1350.0 578.8,1374.0 582.0,1362.0 584.6,1344.2 588.3,1372.0 591.6,1378.0 596.0,1366.0 607.4,1348.0 616.5,1341.0 622.2,1339.6 624.5,1382.9 628.0,1380.0 637.0,1376.0 650.7,1372.0 662.1,1371.0 671.2,1378.0 694.0,1378.0 698.5,1385.2 703.1,1392.0 705.3,1387.4 708.1,1437.6 711.0,1421.6 714.5,1414.8 716.7,1340.8 720.1,1344.2 723.0,1352.0 724.9,1380.0 728.3,1350.0 731.7,1372.0 735.0,1354.0 738.6,1368.0 741.8,1380.0 746.3,1366.0 749.8,1357.0" fill="none" stroke="#3fe3c3" stroke-width="2.6" stroke-linejoin="round" stroke-linecap="butt"/>
<polyline points="169.6,1353.3 176.4,1337.3 179.8,1355.6 183.2,1376.1 192.3,1364.7 203.7,1357.8 217.4,1353.3 228.8,1349.9 233.3,1355.6 237.9,1369.2 241.3,1382.9 244.7,1362.4 247.5,1375.0 250.0,1368.0 253.0,1350.0 256.1,1339.6 260.7,1355.6 264.1,1346.4 267.5,1366.9 272.1,1344.2 277.8,1331.6 284.6,1343.0 289.1,1355.6 292.6,1369.2 296.0,1369.2 299.4,1360.1 302.8,1351.0 305.1,1328.2 308.5,1339.6 313.1,1329.4 318.8,1331.6 323.3,1351.0 326.7,1354.4 330.1,1346.4 333.5,1336.2 335.8,1364.7 341.5,1362.4 347.2,1355.6 354.1,1339.6 357.5,1376.1 360.9,1369.2 365.0,1361.3 368.0,1355.0 375.9,1346.0 382.8,1341.0 389.6,1337.0 393.0,1341.0 396.4,1325.9 401.0,1324.8 403.0,1340.0 405.6,1351.0 407.8,1385.2 410.0,1388.0 412.5,1420.0 414.7,1425.0 417.0,1390.0 419.0,1350.0 421.5,1337.3 424.5,1378.0 428.0,1345.0 431.0,1365.0 435.2,1352.0 438.6,1373.8 441.0,1376.0 444.0,1372.0 447.7,1378.0 450.0,1392.0 452.5,1430.0 456.0,1380.0 458.0,1430.0 460.4,1530.0 463.0,1423.9 464.8,1364.7 469.0,1360.0 471.8,1344.0 474.0,1365.0 478.5,1373.8 481.0,1368.0 485.0,1352.0 489.8,1378.3 493.0,1376.0 501.2,1355.6 510.3,1341.9 522.9,1336.2 524.0,1376.1 527.4,1380.6 540.0,1373.8 542.2,1389.7 545.6,1355.6 549.0,1351.0 553.6,1364.7 555.0,1369.0 560.7,1376.1 566.4,1401.1 569.8,1394.0 572.5,1370.0 575.5,1348.7 578.5,1372.0 582.0,1360.0 585.0,1347.0 588.0,1376.1 591.4,1376.1 596.0,1364.7 607.4,1346.4 616.5,1338.5 622.2,1337.3 624.5,1373.8 626.8,1378.3 637.0,1373.8 650.7,1370.4 662.1,1369.2 671.2,1376.1 694.0,1376.1 696.5,1380.0 698.8,1404.0 701.0,1444.0 703.3,1395.0 704.4,1422.0 705.6,1392.0 707.5,1476.0 709.6,1456.0 711.9,1475.0 713.5,1454.0 714.7,1472.0 716.5,1400.0 718.3,1360.0 721.0,1344.0 724.4,1378.0 727.8,1346.0 731.2,1369.0 736.1,1351.0 740.6,1381.8 745.2,1366.9 749.8,1356.7" fill="none" stroke="#ffffff" stroke-width="2.6" stroke-linejoin="round" stroke-linecap="butt"/>
<polyline points="169.6,1357.0 175.8,1344.0 178.9,1346.0 181.2,1362.4 184.4,1376.0 192.3,1367.5 203.7,1360.5 217.4,1356.0 228.8,1352.5 233.3,1356.0 237.9,1371.5 241.3,1378.3 244.7,1376.1 247.0,1385.2 251.6,1412.5 255.0,1401.1 258.4,1380.6 261.8,1355.6 264.1,1344.2 266.4,1366.9 269.8,1360.1 274.3,1351.0 280.0,1348.0 285.7,1348.7 289.1,1364.7 292.6,1376.1 297.1,1372.0 301.7,1369.2 308.5,1378.3 315.3,1376.1 319.9,1387.4 324.5,1402.3 327.9,1401.1 332.4,1387.4 335.8,1371.5 341.5,1363.5 347.2,1360.1 354.1,1346.4 357.5,1362.4 359.8,1373.8 365.0,1369.2 368.0,1358.0 375.9,1349.0 382.8,1344.5 389.6,1340.0 392.5,1346.0 394.2,1362.4 397.6,1378.3 403.3,1387.4 406.7,1401.1 409.0,1405.7 411.5,1415.0 413.7,1426.0 416.0,1418.0 418.3,1380.0 421.2,1344.0 424.0,1382.0 427.4,1344.0 430.8,1371.0 435.4,1357.0 440.9,1335.1 444.3,1355.6 447.7,1371.5 451.1,1389.7 454.5,1423.9 458.0,1492.2 460.2,1535.5 462.5,1492.2 467.1,1401.1 470.5,1376.1 473.0,1352.0 476.2,1344.2 487.6,1344.2 491.0,1378.3 496.0,1372.0 505.8,1358.0 510.3,1346.4 519.5,1341.9 520.6,1376.1 526.3,1378.3 537.7,1374.9 542.2,1373.8 545.6,1351.0 549.1,1366.9 553.6,1380.0 558.2,1401.1 561.8,1398.8 565.3,1419.3 568.7,1405.7 572.1,1378.3 575.5,1352.0 579.0,1376.0 582.3,1362.0 586.0,1349.0 590.3,1339.6 592.6,1369.2 600.6,1357.8 607.4,1348.7 614.2,1352.1 616.5,1380.6 619.9,1381.8 634.7,1372.6 650.7,1366.9 662.1,1365.8 673.5,1371.5 691.7,1371.5 696.2,1374.9 698.5,1396.0 700.8,1412.5 703.5,1420.0 705.5,1440.0 707.6,1476.3 711.0,1451.2 714.5,1469.4 716.7,1423.9 718.6,1366.9 721.5,1349.0 724.7,1380.0 728.0,1348.0 730.4,1335.1 732.7,1366.9 737.2,1355.6 740.6,1340.8 744.1,1373.8 749.8,1362.4" fill="none" stroke="#e3102d" stroke-width="2.6" stroke-linejoin="round" stroke-linecap="butt"/>
<polyline points="169.6,1359.0 175.3,1346.4 178.7,1345.3 180.9,1362.4 184.4,1378.3 192.3,1370.4 203.7,1363.5 217.4,1359.0 228.8,1355.6 233.3,1357.8 237.9,1371.5 241.3,1378.3 243.6,1351.0 245.2,1331.6 247.5,1351.0 250.4,1362.4 253.8,1351.0 256.1,1349.9 258.9,1369.2 261.8,1355.6 265.2,1378.3 268.6,1366.9 273.2,1353.3 277.8,1346.4 282.3,1347.6 285.7,1353.3 289.1,1369.2 292.6,1378.3 297.1,1374.9 301.7,1371.5 307.4,1378.3 313.1,1366.9 316.5,1354.4 319.9,1351.0 323.3,1378.3 326.3,1387.4 330.1,1373.8 334.7,1346.4 337.0,1371.5 341.5,1364.7 347.2,1359.0 354.1,1347.6 356.3,1366.9 358.6,1378.3 363.2,1376.1 366.8,1360.1 375.9,1351.0 382.8,1346.4 389.6,1341.9 393.0,1347.6 395.3,1325.9 397.6,1324.8 399.9,1335.1 403.3,1341.9 406.7,1355.6 409.0,1351.0 411.3,1396.6 413.5,1423.9 415.8,1417.1 418.1,1378.3 421.0,1341.9 423.8,1380.6 427.2,1341.9 430.6,1369.2 435.2,1355.6 439.7,1339.6 442.0,1355.6 443.1,1378.3 447.7,1376.1 450.0,1389.7 452.3,1433.0 455.7,1373.8 457.5,1423.9 460.2,1534.4 463.6,1423.9 465.9,1366.9 469.3,1364.7 471.6,1348.7 473.9,1369.2 477.3,1355.6 480.8,1371.5 484.1,1355.6 487.6,1346.4 492.1,1380.6 496.7,1373.8 505.8,1360.1 514.9,1351.0 524.0,1346.4 535.4,1340.8 542.2,1337.3 544.0,1353.3 546.3,1325.9 549.1,1348.7 553.6,1362.4 558.4,1369.2 561.8,1344.2 565.3,1373.8 567.5,1362.4 569.8,1343.0 573.2,1380.6 576.6,1348.7 580.1,1380.6 583.5,1366.9 586.9,1351.0 588.7,1344.2 591.4,1380.6 596.0,1366.9 605.1,1355.6 616.5,1347.6 626.8,1344.2 629.0,1364.7 631.3,1381.8 639.3,1377.2 650.7,1373.8 662.1,1371.5 668.9,1376.1 673.5,1378.3 694.0,1377.2 696.2,1380.6 698.5,1405.7 700.8,1446.7 703.1,1396.6 704.2,1423.9 705.3,1389.7 707.2,1478.6 709.4,1458.1 711.7,1477.4 713.3,1455.8 714.5,1476.3 716.7,1423.9 718.6,1366.9 721.3,1346.4 724.7,1382.9 728.1,1348.7 731.5,1371.5 734.9,1351.0 738.4,1366.9 741.8,1378.3 746.3,1364.7 749.8,1355.6" fill="none" stroke="#fa8a1c" stroke-width="2.6" stroke-linejoin="round" stroke-linecap="butt"/>
<path d="M241.5 1579.0V1749.2M252.9 1579.0V1749.2M276.2 1579.0V1749.2M289.7 1579.0V1749.2M306.1 1579.0V1749.2M322.2 1579.0V1749.2M354.2 1579.0V1749.2M397.2 1579.0V1749.2M412.0 1579.0V1749.2M444.7 1579.0V1749.2M459.5 1579.0V1749.2M485.4 1579.0V1749.2M549.7 1579.0V1749.2M566.0 1579.0V1749.2M671.8 1579.0V1749.2M710.0 1579.0V1749.2M718.0 1579.0V1749.2M735.0 1579.0V1749.2" stroke="#5e5e61" stroke-width="2.1" fill="none" stroke-dasharray="6.3 6.56" stroke-dashoffset="2.26"/>
<line x1="387.8" y1="1579.0" x2="387.8" y2="1749.2" stroke="#656568" stroke-width="2"/>
<text x="387.8" y="1599.9" text-anchor="middle" font-size="20" fill="#959597">S2</text>
<line x1="640.1" y1="1579.0" x2="640.1" y2="1749.2" stroke="#656568" stroke-width="2"/>
<text x="640.1" y="1599.9" text-anchor="middle" font-size="20" fill="#959597">S3</text>
<text x="241.5" y="1743.8" text-anchor="middle" font-size="22.3" fill="#8c8c8e">1</text>
<text x="252.9" y="1743.8" text-anchor="middle" font-size="22.3" fill="#8c8c8e">2</text>
<text x="276.2" y="1743.8" text-anchor="middle" font-size="22.3" fill="#8c8c8e">3</text>
<text x="289.7" y="1743.8" text-anchor="middle" font-size="22.3" fill="#8c8c8e">4</text>
<text x="306.1" y="1743.8" text-anchor="middle" font-size="22.3" fill="#8c8c8e">5</text>
<text x="322.2" y="1743.8" text-anchor="middle" font-size="22.3" fill="#8c8c8e">6</text>
<text x="354.2" y="1743.8" text-anchor="middle" font-size="22.3" fill="#8c8c8e">7</text>
<text x="397.2" y="1743.8" text-anchor="middle" font-size="22.3" fill="#8c8c8e">8</text>
<text x="412.0" y="1743.8" text-anchor="middle" font-size="22.3" fill="#8c8c8e">9</text>
<text x="444.7" y="1743.8" text-anchor="middle" font-size="22.3" fill="#8c8c8e">10</text>
<text x="459.5" y="1743.8" text-anchor="middle" font-size="22.3" fill="#8c8c8e">11</text>
<text x="485.4" y="1743.8" text-anchor="middle" font-size="22.3" fill="#8c8c8e">12</text>
<text x="549.7" y="1743.8" text-anchor="middle" font-size="22.3" fill="#8c8c8e">13</text>
<text x="566.0" y="1743.8" text-anchor="middle" font-size="22.3" fill="#8c8c8e">14</text>
<text x="671.8" y="1743.8" text-anchor="middle" font-size="22.3" fill="#8c8c8e">15</text>
<text x="710.0" y="1743.8" text-anchor="middle" font-size="22.3" fill="#8c8c8e">16</text>
<text x="718.0" y="1743.8" text-anchor="middle" font-size="22.3" fill="#8c8c8e">17</text>
<text x="735.0" y="1743.8" text-anchor="middle" font-size="22.3" fill="#8c8c8e">18</text>
<g opacity="0.28"><circle cx="432.6" cy="1668.0" r="20" fill="#204c52"/><circle cx="453.8" cy="1680.7" r="12.5" fill="#3b676b"/><g transform="translate(438.3,1670.4) scale(0.300) translate(-438.6,-95.7)" opacity="0.8"><text y="117.4" font-family="'Liberation Sans',sans-serif" font-weight="400" font-size="60.5" fill="#ffffff" stroke="#ffffff" stroke-width="3.6" stroke-linejoin="miter" xml:space="preserve"><tspan x="301.1" textLength="43.1" lengthAdjust="spacingAndGlyphs">G</tspan><tspan x="342.3" textLength="31.3" lengthAdjust="spacingAndGlyphs">P</tspan><tspan x="374.0"> </tspan><tspan x="386.3" textLength="31.1" lengthAdjust="spacingAndGlyphs">T</tspan><tspan x="420.1" textLength="27.3" lengthAdjust="spacingAndGlyphs">E</tspan><tspan x="447.6" textLength="49.8" lengthAdjust="spacingAndGlyphs">M</tspan><tspan x="494.3" textLength="34.6" lengthAdjust="spacingAndGlyphs">P</tspan><tspan x="532.1" textLength="44.1" lengthAdjust="spacingAndGlyphs">O</tspan></text><circle cx="554.2" cy="95.7" r="5.2" fill="#ffffff"/></g></g>
<path d="M170.0 1579.0V1749.2H750.0" stroke="#656568" stroke-width="2" fill="none"/>
<text transform="translate(147.2,1664.7) rotate(-90)" text-anchor="middle" font-size="24.8" textLength="48.6" lengthAdjust="spacingAndGlyphs" fill="#8c8c8e">DRS</text>
<polyline points="170.0,1580.0 232.6,1580.0 232.6,1749.0 740.5,1749.0 740.5,1580.0 750.0,1580.0" fill="none" stroke="#ffd9b0" stroke-width="1.8" stroke-linejoin="round" stroke-linecap="butt"/>
<polyline points="170.0,1580.0 235.0,1580.0 235.0,1749.0 740.5,1749.0 740.5,1580.0 750.0,1580.0" fill="none" stroke="#e3102d" stroke-width="1.8" stroke-linejoin="round" stroke-linecap="butt"/>
<polyline points="170.0,1580.0 233.8,1580.0 233.8,1749.0 740.5,1749.0 740.5,1580.0 750.0,1580.0" fill="none" stroke="#fa8a1c" stroke-width="1.8" stroke-linejoin="round" stroke-linecap="butt"/>
<clipPath id="cpg"><rect x="0" y="1700" width="878" height="245"/></clipPath><g clip-path="url(#cpg)"><path d="M241.5 1793.0V2130.0M252.9 1793.0V2130.0M276.2 1793.0V2130.0M289.7 1793.0V2130.0M306.1 1793.0V2130.0M322.2 1793.0V2130.0M354.2 1793.0V2130.0M397.2 1793.0V2130.0M412.0 1793.0V2130.0M444.7 1793.0V2130.0M459.5 1793.0V2130.0M485.4 1793.0V2130.0M549.7 1793.0V2130.0M566.0 1793.0V2130.0M671.8 1793.0V2130.0M710.0 1793.0V2130.0M718.0 1793.0V2130.0M735.0 1793.0V2130.0" stroke="#5e5e61" stroke-width="2.1" fill="none" stroke-dasharray="6.3 6.56" stroke-dashoffset="10.96"/>
<line x1="387.8" y1="1793.0" x2="387.8" y2="2130.0" stroke="#656568" stroke-width="2"/>
<text x="387.8" y="1813.9" text-anchor="middle" font-size="20" fill="#959597">S2</text>
<line x1="640.1" y1="1793.0" x2="640.1" y2="2130.0" stroke="#656568" stroke-width="2"/>
<text x="640.1" y="1813.9" text-anchor="middle" font-size="20" fill="#959597">S3</text>
<path d="M170.0 1793.0V2130.0H750.0" stroke="#656568" stroke-width="2" fill="none"/>
<text transform="translate(147.2,1899.3) rotate(-90)" text-anchor="middle" font-size="24.8" textLength="54.8" lengthAdjust="spacingAndGlyphs" fill="#8c8c8e">Gear</text>
<polyline points="170.0,1828.3 179.1,1828.3 179.1,1793.7 243.2,1793.7 243.2,1864.0 248.0,1864.0 248.0,1898.9 250.0,1898.9 250.0,1935.3 260.7,1935.3 260.7,1898.9 265.0,1898.9 265.0,1864.0 319.4,1864.0 319.4,1898.9 338.8,1898.9 338.8,1864.0 351.8,1864.0 351.8,1828.3 412.0,1828.3 412.0,1935.3 426.0,1935.3 426.0,1898.9 431.8,1898.9 431.8,1864.0 445.0,1864.0 445.0,1828.3 453.6,1828.3 453.6,1864.0 458.2,1864.0 458.2,2006.0 470.0,2006.0 470.0,1935.3 474.0,1935.3 474.0,1898.9 481.0,1898.9 481.0,1864.0 491.8,1864.0 491.8,1828.3 526.0,1828.3 526.0,1793.7 547.8,1793.7 547.8,1864.0 559.8,1864.0 559.8,1898.9 564.4,1898.9 564.4,1935.3 574.4,1935.3 574.4,1898.9 581.2,1898.9 581.2,1864.0 588.7,1864.0 588.7,1828.3 627.4,1828.3 627.4,1793.7 700.8,1793.7 700.8,1828.3 703.0,1828.3 703.0,2006.0 721.4,2006.0 721.4,1935.3 725.4,1935.3 725.4,1898.9 732.2,1898.9 732.2,1864.0 738.4,1864.0 738.4,1828.3 749.8,1828.3" fill="none" stroke="#3fe3c3" stroke-width="1.9" stroke-linejoin="round" stroke-linecap="butt"/>
<polyline points="170.0,1828.3 182.5,1828.3 182.5,1793.7 242.4,1793.7 242.4,1864.0 246.5,1864.0 246.5,1898.9 248.8,1898.9 248.8,1935.3 258.0,1935.3 258.0,1898.9 264.0,1898.9 264.0,1864.0 304.4,1864.0 304.4,1898.9 335.8,1898.9 335.8,1864.0 356.0,1864.0 356.0,1828.3 398.2,1828.3 398.2,1864.0 409.6,1864.0 409.6,1935.3 423.0,1935.3 423.0,1898.9 428.3,1898.9 428.3,1864.0 438.6,1864.0 438.6,1828.3 452.3,1828.3 452.3,1864.0 457.0,1864.0 457.0,2006.0 471.2,2006.0 471.2,1935.3 472.9,1935.3 472.9,1898.9 477.3,1898.9 477.3,1864.0 490.2,1864.0 490.2,1828.3 525.3,1828.3 525.3,1793.7 546.5,1793.7 546.5,1864.0 558.5,1864.0 558.5,1898.9 563.2,1898.9 563.2,1935.3 573.0,1935.3 573.0,1898.9 579.8,1898.9 579.8,1864.0 589.5,1864.0 589.5,1828.3 624.5,1828.3 624.5,1793.7 704.8,1793.7 704.8,2006.0 720.2,2006.0 720.2,1935.3 724.0,1935.3 724.0,1898.9 730.8,1898.9 730.8,1864.0 739.9,1864.0 739.9,1828.3 749.8,1828.3" fill="none" stroke="#ffffff" stroke-width="1.9" stroke-linejoin="round" stroke-linecap="butt"/>
<polyline points="170.0,1828.3 181.0,1828.3 181.0,1793.7 245.8,1793.7 245.8,1864.0 248.2,1864.0 248.2,1898.9 249.8,1898.9 249.8,1935.3 259.0,1935.3 259.0,1898.9 267.5,1898.9 267.5,1864.0 358.0,1864.0 358.0,1828.3 409.8,1828.3 409.8,1864.0 410.4,1864.0 410.4,1935.3 423.8,1935.3 423.8,1898.9 431.6,1898.9 431.6,1864.0 446.6,1864.0 446.6,1828.3 455.7,1828.3 455.7,1864.0 458.0,1864.0 458.0,2006.0 470.6,2006.0 470.6,1935.3 474.6,1935.3 474.6,1898.9 481.6,1898.9 481.6,1864.0 494.4,1864.0 494.4,1828.3 520.1,1828.3 520.1,1793.7 549.0,1793.7 549.0,1828.3 550.2,1828.3 550.2,1864.0 559.6,1864.0 559.6,1898.9 564.2,1898.9 564.2,1935.3 574.2,1935.3 574.2,1898.9 581.0,1898.9 581.0,1864.0 592.6,1864.0 592.6,1828.3 618.3,1828.3 618.3,1793.7 704.0,1793.7 704.0,2006.0 721.6,2006.0 721.6,1935.3 725.6,1935.3 725.6,1898.9 732.4,1898.9 732.4,1864.0 744.5,1864.0 744.5,1828.3 749.8,1828.3" fill="none" stroke="#e3102d" stroke-width="1.9" stroke-linejoin="round" stroke-linecap="butt"/>
<polyline points="170.0,1828.3 183.7,1828.3 183.7,1793.7 245.2,1793.7 245.2,1864.0 247.5,1864.0 247.5,1898.9 249.3,1898.9 249.3,1935.3 258.4,1935.3 258.4,1898.9 264.5,1898.9 264.5,1864.0 316.5,1864.0 316.5,1898.9 338.1,1898.9 338.1,1864.0 357.5,1864.0 357.5,1828.3 397.6,1828.3 397.6,1864.0 409.0,1864.0 409.0,1935.3 423.3,1935.3 423.3,1898.9 431.1,1898.9 431.1,1864.0 444.3,1864.0 444.3,1828.3 452.9,1828.3 452.9,1864.0 457.5,1864.0 457.5,2006.0 469.3,2006.0 469.3,1935.3 473.4,1935.3 473.4,1898.9 480.3,1898.9 480.3,1864.0 491.0,1864.0 491.0,1828.3 547.2,1828.3 547.2,1864.0 559.1,1864.0 559.1,1898.9 563.7,1898.9 563.7,1935.3 573.7,1935.3 573.7,1898.9 580.5,1898.9 580.5,1864.0 590.3,1864.0 590.3,1828.3 629.0,1828.3 629.0,1793.7 705.8,1793.7 705.8,2006.0 720.8,2006.0 720.8,1935.3 724.7,1935.3 724.7,1898.9 731.5,1898.9 731.5,1864.0 741.4,1864.0 741.4,1828.3 749.8,1828.3" fill="none" stroke="#fa8a1c" stroke-width="1.9" stroke-linejoin="round" stroke-linecap="butt"/><g opacity="0.28"><circle cx="432.6" cy="1902.6" r="20" fill="#204c52"/><circle cx="453.8" cy="1915.3" r="12.5" fill="#3b676b"/><g transform="translate(438.3,1905.0) scale(0.300) translate(-438.6,-95.7)" opacity="0.8"><text y="117.4" font-family="'Liberation Sans',sans-serif" font-weight="400" font-size="60.5" fill="#ffffff" stroke="#ffffff" stroke-width="3.6" stroke-linejoin="miter" xml:space="preserve"><tspan x="301.1" textLength="43.1" lengthAdjust="spacingAndGlyphs">G</tspan><tspan x="342.3" textLength="31.3" lengthAdjust="spacingAndGlyphs">P</tspan><tspan x="374.0"> </tspan><tspan x="386.3" textLength="31.1" lengthAdjust="spacingAndGlyphs">T</tspan><tspan x="420.1" textLength="27.3" lengthAdjust="spacingAndGlyphs">E</tspan><tspan x="447.6" textLength="49.8" lengthAdjust="spacingAndGlyphs">M</tspan><tspan x="494.3" textLength="34.6" lengthAdjust="spacingAndGlyphs">P</tspan><tspan x="532.1" textLength="44.1" lengthAdjust="spacingAndGlyphs">O</tspan></text><circle cx="554.2" cy="95.7" r="5.2" fill="#ffffff"/></g></g></g>
<clipPath id="cps"><rect x="0" y="2041.6" width="878" height="7"/></clipPath><g clip-path="url(#cps)"><g transform="translate(0,127.7)"><path d="M241.5 1793.0V2130.0M252.9 1793.0V2130.0M276.2 1793.0V2130.0M289.7 1793.0V2130.0M306.1 1793.0V2130.0M322.2 1793.0V2130.0M354.2 1793.0V2130.0M397.2 1793.0V2130.0M412.0 1793.0V2130.0M444.7 1793.0V2130.0M459.5 1793.0V2130.0M485.4 1793.0V2130.0M549.7 1793.0V2130.0M566.0 1793.0V2130.0M671.8 1793.0V2130.0M710.0 1793.0V2130.0M718.0 1793.0V2130.0M735.0 1793.0V2130.0" stroke="#5e5e61" stroke-width="2.1" fill="none" stroke-dasharray="6.3 6.56" stroke-dashoffset="10.96"/>
<line x1="387.8" y1="1793.0" x2="387.8" y2="2130.0" stroke="#656568" stroke-width="2"/>
<text x="387.8" y="1813.9" text-anchor="middle" font-size="20" fill="#959597">S2</text>
<line x1="640.1" y1="1793.0" x2="640.1" y2="2130.0" stroke="#656568" stroke-width="2"/>
<text x="640.1" y="1813.9" text-anchor="middle" font-size="20" fill="#959597">S3</text>
<path d="M170.0 1793.0V2130.0H750.0" stroke="#656568" stroke-width="2" fill="none"/>
<text transform="translate(147.2,1899.3) rotate(-90)" text-anchor="middle" font-size="24.8" textLength="54.8" lengthAdjust="spacingAndGlyphs" fill="#8c8c8e">Gear</text>
<polyline points="170.0,1828.3 179.1,1828.3 179.1,1793.7 243.2,1793.7 243.2,1864.0 248.0,1864.0 248.0,1898.9 250.0,1898.9 250.0,1935.3 260.7,1935.3 260.7,1898.9 265.0,1898.9 265.0,1864.0 319.4,1864.0 319.4,1898.9 338.8,1898.9 338.8,1864.0 351.8,1864.0 351.8,1828.3 412.0,1828.3 412.0,1935.3 426.0,1935.3 426.0,1898.9 431.8,1898.9 431.8,1864.0 445.0,1864.0 445.0,1828.3 453.6,1828.3 453.6,1864.0 458.2,1864.0 458.2,2006.0 470.0,2006.0 470.0,1935.3 474.0,1935.3 474.0,1898.9 481.0,1898.9 481.0,1864.0 491.8,1864.0 491.8,1828.3 526.0,1828.3 526.0,1793.7 547.8,1793.7 547.8,1864.0 559.8,1864.0 559.8,1898.9 564.4,1898.9 564.4,1935.3 574.4,1935.3 574.4,1898.9 581.2,1898.9 581.2,1864.0 588.7,1864.0 588.7,1828.3 627.4,1828.3 627.4,1793.7 700.8,1793.7 700.8,1828.3 703.0,1828.3 703.0,2006.0 721.4,2006.0 721.4,1935.3 725.4,1935.3 725.4,1898.9 732.2,1898.9 732.2,1864.0 738.4,1864.0 738.4,1828.3 749.8,1828.3" fill="none" stroke="#3fe3c3" stroke-width="1.9" stroke-linejoin="round" stroke-linecap="butt"/>
<polyline points="170.0,1828.3 182.5,1828.3 182.5,1793.7 242.4,1793.7 242.4,1864.0 246.5,1864.0 246.5,1898.9 248.8,1898.9 248.8,1935.3 258.0,1935.3 258.0,1898.9 264.0,1898.9 264.0,1864.0 304.4,1864.0 304.4,1898.9 335.8,1898.9 335.8,1864.0 356.0,1864.0 356.0,1828.3 398.2,1828.3 398.2,1864.0 409.6,1864.0 409.6,1935.3 423.0,1935.3 423.0,1898.9 428.3,1898.9 428.3,1864.0 438.6,1864.0 438.6,1828.3 452.3,1828.3 452.3,1864.0 457.0,1864.0 457.0,2006.0 471.2,2006.0 471.2,1935.3 472.9,1935.3 472.9,1898.9 477.3,1898.9 477.3,1864.0 490.2,1864.0 490.2,1828.3 525.3,1828.3 525.3,1793.7 546.5,1793.7 546.5,1864.0 558.5,1864.0 558.5,1898.9 563.2,1898.9 563.2,1935.3 573.0,1935.3 573.0,1898.9 579.8,1898.9 579.8,1864.0 589.5,1864.0 589.5,1828.3 624.5,1828.3 624.5,1793.7 704.8,1793.7 704.8,2006.0 720.2,2006.0 720.2,1935.3 724.0,1935.3 724.0,1898.9 730.8,1898.9 730.8,1864.0 739.9,1864.0 739.9,1828.3 749.8,1828.3" fill="none" stroke="#ffffff" stroke-width="1.9" stroke-linejoin="round" stroke-linecap="butt"/>
<polyline points="170.0,1828.3 181.0,1828.3 181.0,1793.7 245.8,1793.7 245.8,1864.0 248.2,1864.0 248.2,1898.9 249.8,1898.9 249.8,1935.3 259.0,1935.3 259.0,1898.9 267.5,1898.9 267.5,1864.0 358.0,1864.0 358.0,1828.3 409.8,1828.3 409.8,1864.0 410.4,1864.0 410.4,1935.3 423.8,1935.3 423.8,1898.9 431.6,1898.9 431.6,1864.0 446.6,1864.0 446.6,1828.3 455.7,1828.3 455.7,1864.0 458.0,1864.0 458.0,2006.0 470.6,2006.0 470.6,1935.3 474.6,1935.3 474.6,1898.9 481.6,1898.9 481.6,1864.0 494.4,1864.0 494.4,1828.3 520.1,1828.3 520.1,1793.7 549.0,1793.7 549.0,1828.3 550.2,1828.3 550.2,1864.0 559.6,1864.0 559.6,1898.9 564.2,1898.9 564.2,1935.3 574.2,1935.3 574.2,1898.9 581.0,1898.9 581.0,1864.0 592.6,1864.0 592.6,1828.3 618.3,1828.3 618.3,1793.7 704.0,1793.7 704.0,2006.0 721.6,2006.0 721.6,1935.3 725.6,1935.3 725.6,1898.9 732.4,1898.9 732.4,1864.0 744.5,1864.0 744.5,1828.3 749.8,1828.3" fill="none" stroke="#e3102d" stroke-width="1.9" stroke-linejoin="round" stroke-linecap="butt"/>
<polyline points="170.0,1828.3 183.7,1828.3 183.7,1793.7 245.2,1793.7 245.2,1864.0 247.5,1864.0 247.5,1898.9 249.3,1898.9 249.3,1935.3 258.4,1935.3 258.4,1898.9 264.5,1898.9 264.5,1864.0 316.5,1864.0 316.5,1898.9 338.1,1898.9 338.1,1864.0 357.5,1864.0 357.5,1828.3 397.6,1828.3 397.6,1864.0 409.0,1864.0 409.0,1935.3 423.3,1935.3 423.3,1898.9 431.1,1898.9 431.1,1864.0 444.3,1864.0 444.3,1828.3 452.9,1828.3 452.9,1864.0 457.5,1864.0 457.5,2006.0 469.3,2006.0 469.3,1935.3 473.4,1935.3 473.4,1898.9 480.3,1898.9 480.3,1864.0 491.0,1864.0 491.0,1828.3 547.2,1828.3 547.2,1864.0 559.1,1864.0 559.1,1898.9 563.7,1898.9 563.7,1935.3 573.7,1935.3 573.7,1898.9 580.5,1898.9 580.5,1864.0 590.3,1864.0 590.3,1828.3 629.0,1828.3 629.0,1793.7 705.8,1793.7 705.8,2006.0 720.8,2006.0 720.8,1935.3 724.7,1935.3 724.7,1898.9 731.5,1898.9 731.5,1864.0 741.4,1864.0 741.4,1828.3 749.8,1828.3" fill="none" stroke="#fa8a1c" stroke-width="1.9" stroke-linejoin="round" stroke-linecap="butt"/><g opacity="0.28"><circle cx="432.6" cy="1902.6" r="20" fill="#204c52"/><circle cx="453.8" cy="1915.3" r="12.5" fill="#3b676b"/><g transform="translate(438.3,1905.0) scale(0.300) translate(-438.6,-95.7)" opacity="0.8"><text y="117.4" font-family="'Liberation Sans',sans-serif" font-weight="400" font-size="60.5" fill="#ffffff" stroke="#ffffff" stroke-width="3.6" stroke-linejoin="miter" xml:space="preserve"><tspan x="301.1" textLength="43.1" lengthAdjust="spacingAndGlyphs">G</tspan><tspan x="342.3" textLength="31.3" lengthAdjust="spacingAndGlyphs">P</tspan><tspan x="374.0"> </tspan><tspan x="386.3" textLength="31.1" lengthAdjust="spacingAndGlyphs">T</tspan><tspan x="420.1" textLength="27.3" lengthAdjust="spacingAndGlyphs">E</tspan><tspan x="447.6" textLength="49.8" lengthAdjust="spacingAndGlyphs">M</tspan><tspan x="494.3" textLength="34.6" lengthAdjust="spacingAndGlyphs">P</tspan><tspan x="532.1" textLength="44.1" lengthAdjust="spacingAndGlyphs">O</tspan></text><circle cx="554.2" cy="95.7" r="5.2" fill="#ffffff"/></g></g></g></g>
</svg>

<!-- status bar -->
<div id="status" class="abs">
<div class="t" style="left:44px">1:56</div>
<svg class="abs" style="left:0;top:0" width="878" height="51" viewBox="0 0 878 51">
<path d="M112 34.900V16.800L114.300 15.300L125.500 24.200L136.700 15.300L139 16.800V34.900H134V23.300L125.500 30L117 23.300V34.900Z" fill="none" stroke="#5c5f63" stroke-width="2.100" stroke-linejoin="round"/>
<path d="M172.300 14.500L185.300 35.800H159.300Z" fill="#5c5f63" stroke="#5c5f63" stroke-width="2.200" stroke-linejoin="round"/>
<rect x="170.900" y="21" width="2.800" height="8.500" fill="#f4f7fb"/><rect x="170.900" y="31.300" width="2.800" height="2.800" fill="#f4f7fb"/>
<g fill="#5c5f63">
<path d="M212.500 22L215 14.500Q215.500 13.500 217 14L219.500 15L222 14Q223.500 13.500 224 14.500L226.500 22Z"/>
<rect x="207.500" y="23.500" width="24" height="2.600" rx="1"/>
<circle cx="213.500" cy="32.500" r="4.300" fill="none" stroke="#5c5f63" stroke-width="2.200"/>
<circle cx="225.500" cy="32.500" r="4.300" fill="none" stroke="#5c5f63" stroke-width="2.200"/>
<rect x="217" y="31.300" width="5" height="2.200"/>
<rect x="252.500" y="15" width="28" height="21.500" rx="3.500"/>
<circle cx="313.500" cy="25.500" r="3.300"/>
</g>
<text x="256" y="31.500" font-size="13" font-weight="700" fill="#f4f7fb">G</text>
<g stroke="#f4f7fb" stroke-width="2"><path d="M267.500 21.500H276.500M267.500 25.700H276.500M267.500 29.900H276.500"/></g>
<!-- alarm -->
<g fill="none" stroke="#5c5f63" stroke-width="2.600" stroke-linecap="round">
<circle cx="557.500" cy="26.500" r="10.200"/>
<path d="M557.500 20.500V27L562 30"/>
<path d="M546.500 17L551.500 13M568.500 17L563.500 13"/>
</g>
<!-- mute -->
<g fill="#5c5f63"><path d="M600.500 21.500H605.500L611.500 15.500V36.500L605.500 30.500H600.500Z"/></g>
<g fill="none" stroke="#5c5f63" stroke-width="2.400" stroke-linecap="round">
<path d="M615.500 20.500Q619 26 615.500 31.500"/><path d="M618.500 15.500Q626.500 26 618.500 36.500"/>
</g>
<path d="M599.500 13.500L625.500 38" stroke="#f4f7fb" stroke-width="5.500"/>
<path d="M600 13.500L626 38" stroke="#5c5f63" stroke-width="2.400" stroke-linecap="round"/>
<!-- signal -->
<path d="M681.500 37H708V11.500Z" fill="#5c5f63"/>
<g stroke="#f4f7fb" stroke-width="1.800"><path d="M688.500 10V38M695 10V38M701.500 10V38"/></g>
<path d="M714.800 13.500L718.300 19.800H711.300Z" fill="#bfc2c6"/><path d="M714.800 30.500L718.300 24.200H711.300Z" fill="#bfc2c6"/>
<!-- battery -->
<rect x="738.700" y="15.300" width="13.800" height="22.400" rx="2.500" fill="none" stroke="#5c5f63" stroke-width="2.600"/>
<rect x="742.600" y="11.800" width="6" height="3.500" fill="#5c5f63"/><rect x="739" y="31.500" width="13.200" height="6" fill="#5c5f63"/>
<path d="M747.300 18.500L741.800 28H745.100L743.600 35L749.300 25.500H745.800Z" fill="#5c5f63"/>
</svg>
<div class="t" style="left:650px;top:9.5px;font-size:25.5px;transform:scaleX(0.78);transform-origin:0 0">5G</div>
<div class="t" style="left:762px;letter-spacing:0.2px">28%</div>
</div>

<!-- header -->
<div id="header" class="abs">
<svg class="abs" style="left:0;top:0" width="878" height="87" viewBox="0 51 878 87">
<circle cx="404.4" cy="78.3" r="56.4" fill="#204c52"/><circle cx="462.5" cy="110.5" r="35.9" fill="#3b676b" fill-opacity="0.93"/><text y="117.4" font-family="'Liberation Sans',sans-serif" font-weight="400" font-size="60.5" fill="#ffffff" stroke="#ffffff" stroke-width="3.6" stroke-linejoin="miter" xml:space="preserve"><tspan x="301.1" textLength="43.1" lengthAdjust="spacingAndGlyphs">G</tspan><tspan x="342.3" textLength="31.3" lengthAdjust="spacingAndGlyphs">P</tspan><tspan x="374.0"> </tspan><tspan x="386.3" textLength="31.1" lengthAdjust="spacingAndGlyphs">T</tspan><tspan x="420.1" textLength="27.3" lengthAdjust="spacingAndGlyphs">E</tspan><tspan x="447.6" textLength="49.8" lengthAdjust="spacingAndGlyphs">M</tspan><tspan x="494.3" textLength="34.6" lengthAdjust="spacingAndGlyphs">P</tspan><tspan x="532.1" textLength="44.1" lengthAdjust="spacingAndGlyphs">O</tspan></text><circle cx="554.2" cy="95.7" r="5.2" fill="#ffffff"/>
<path d="M64.300 108.300C60 104 49.200 97 49.200 88.500C49.200 83.500 53 80 57.300 80C60.300 80 62.800 81.500 64.300 84C65.800 81.500 68.300 80 71.300 80C75.600 80 79.400 83.500 79.400 88.500C79.400 97 68.600 104 64.300 108.300Z" fill="#d2232f"/>
<g fill="none" stroke="#ffffff" stroke-width="3" stroke-linejoin="round" stroke-linecap="round">
<rect x="724.200" y="81.200" width="26" height="25.600" rx="3.500"/>
<path d="M737.200 81.200V106.800"/>
<path d="M813.500 81.500A13.300 13.300 0 1 0 827 95.500A10.500 10.500 0 0 1 813.500 81.500Z"/>
</g>
</svg>
</div>

<div id="share" class="abs">
<svg class="abs" style="left:325px;top:17px" width="34" height="34" viewBox="0 0 34 34">
<g fill="none" stroke="#fff" stroke-width="3.100"><circle cx="25" cy="6.500" r="4.300"/><circle cx="7" cy="17" r="4.300"/><circle cx="25" cy="27.500" r="4.300"/><path d="M10.800 14.800L21.300 8.700M10.800 19.200L21.300 25.300"/></g>
</svg>
<span>Share</span>
</div>

<div id="feedback" class="abs">
<svg class="abs" style="left:24px;top:17.5px" width="34" height="34" viewBox="0 0 34 34">
<path d="M3.500 5.500Q3.500 3.500 5.500 3.500H26.500Q28.500 3.500 28.500 5.500V20.500Q28.500 22.500 26.500 22.500H9.500L3.500 28.500Z" fill="none" stroke="#fff" stroke-width="2.800" stroke-linejoin="round"/>
</svg>
<span>Feedback</span>
</div>

<div id="zoom" class="abs">
<svg class="abs" style="left:24px;top:22px" width="36" height="36" viewBox="0 0 36 36">
<g fill="none" stroke="#fff" stroke-width="3" stroke-linecap="round"><circle cx="15.500" cy="15" r="11"/><path d="M24 23.500L31 30.500M15.500 10V20M10.500 15H20.500"/></g>
</svg>
<span>Zoom Disabled</span>
</div>

<div id="nav" class="abs">
<svg class="abs" style="left:0;top:0" width="878" height="95" viewBox="0 1945 878 95">
<g fill="#a8a8aa">
<path d="M204 1982.500L178.500 1997.500L204 2012.500Z" stroke="#a8a8aa" stroke-width="6.500" stroke-linejoin="round"/>
<circle cx="445.500" cy="1997.500" r="18.800"/>
<rect x="681.800" y="1981" width="32.800" height="33.800" rx="4.500"/>
</g>
</svg>
</div>
</body>
</html>
